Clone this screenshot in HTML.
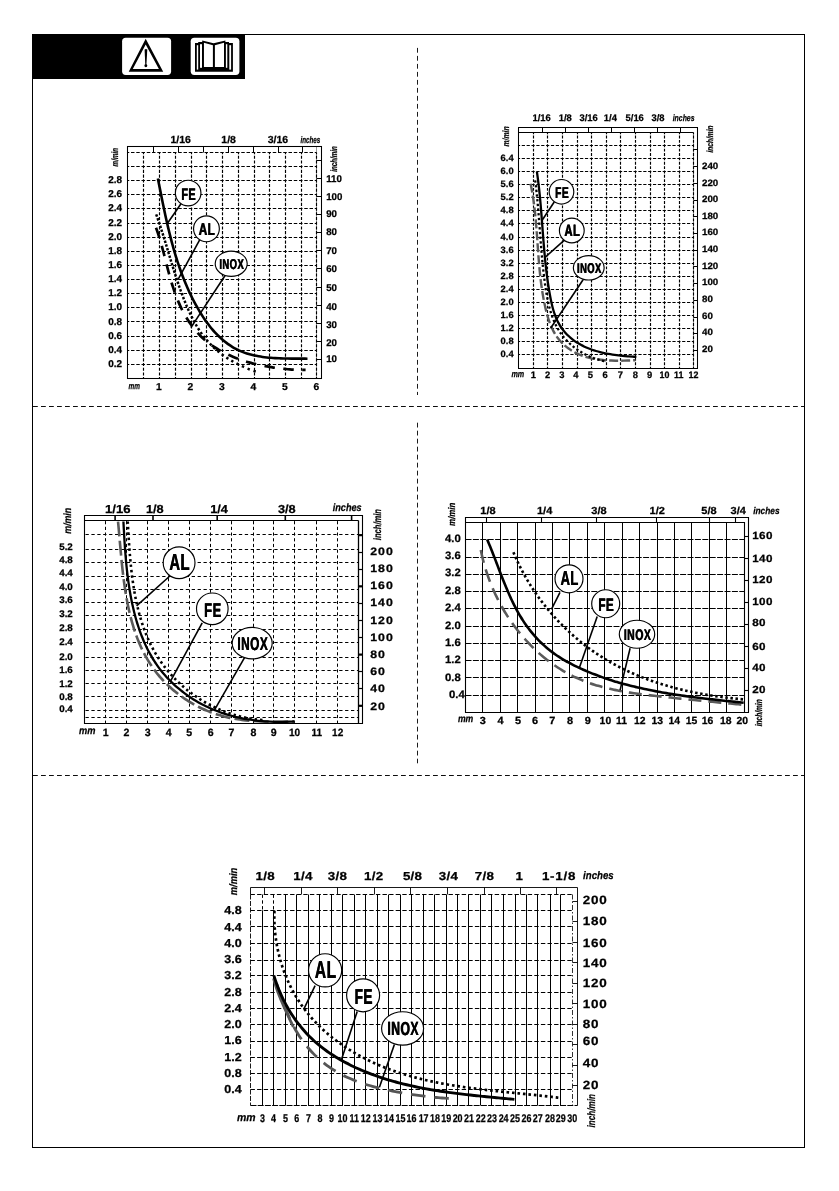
<!DOCTYPE html>
<html><head><meta charset="utf-8"><title>Charts</title>
<style>
html,body{margin:0;padding:0;background:#fff;}
body{width:839px;height:1191px;overflow:hidden;}
svg{display:block;text-rendering:geometricPrecision;font-family:"Liberation Sans",sans-serif;}
</style></head><body>
<svg width="839" height="1191" viewBox="0 0 839 1191">
<rect x="0" y="0" width="839" height="1191" fill="#fff"/>
<rect x="32.5" y="34.5" width="772" height="1113" fill="none" stroke="#000" stroke-width="1"/>
<rect x="32" y="34" width="213" height="45" fill="#000"/>
<line x1="33" y1="406.5" x2="804.5" y2="406.5" stroke="#000" stroke-width="0.95" stroke-dasharray="4.8 3.2"/>
<line x1="33" y1="775.5" x2="804.5" y2="775.5" stroke="#000" stroke-width="0.95" stroke-dasharray="4.8 3.2"/>
<line x1="417.5" y1="47.9" x2="417.5" y2="395" stroke="#000" stroke-width="0.9" stroke-dasharray="4.8 3.2"/>
<line x1="417.5" y1="422.7" x2="417.5" y2="763.3" stroke="#000" stroke-width="0.9" stroke-dasharray="4.8 3.2"/>
<rect x="122.1" y="37.7" width="49" height="37.2" rx="3.6" fill="#fff"/>
<path d="M145.7 38.8 L163.2 71.7 L128.7 71.7 Z M145.7 44.5 L132.8 69.05 L158.9 69.05 Z" fill="#000" fill-rule="evenodd"/>
<path d="M144.6 49.4 Q145.9 48.6 147.3 49.4 L146.4 64.9 L145.3 64.9 Z" fill="#000"/>
<circle cx="145.85" cy="65.7" r="1.45" fill="#000"/>
<rect x="190.7" y="37.7" width="48.7" height="37.2" rx="3.6" fill="#fff"/>
<path d="M195 43.1 H198.2 V42 H202.2 V40.6 L213.6 43.3 L225.4 40.4 V42 H229 V43.1 H232.9 V71.7 H195 Z" fill="#000"/>
<rect x="196.8" y="45.2" width="1.4" height="24.4" fill="#fff"/>
<rect x="200" y="44.2" width="2" height="23.6" fill="#fff"/>
<path d="M203.95 42.7 L212.9 45.2 V67 H203.95 Z" fill="#fff"/>
<path d="M214.9 45.2 L224 42.7 V67 H214.9 Z" fill="#fff"/>
<rect x="225.9" y="44.2" width="1.4" height="23.6" fill="#fff"/>
<rect x="229.3" y="45.2" width="1.8" height="24.4" fill="#fff"/>
<line x1="143.5" y1="152.5" x2="143.5" y2="378.5" stroke="#000" stroke-width="1.15" stroke-dasharray="3.11 1.6" stroke-dashoffset="1.47"/>
<line x1="159.5" y1="152.5" x2="159.5" y2="378.5" stroke="#000" stroke-width="1.15" stroke-dasharray="3.11 1.6" stroke-dashoffset="1.47"/>
<line x1="175.5" y1="152.5" x2="175.5" y2="378.5" stroke="#000" stroke-width="1.15" stroke-dasharray="3.11 1.6" stroke-dashoffset="1.47"/>
<line x1="191.5" y1="152.5" x2="191.5" y2="378.5" stroke="#000" stroke-width="1.15" stroke-dasharray="3.11 1.6" stroke-dashoffset="1.47"/>
<line x1="206.5" y1="152.5" x2="206.5" y2="378.5" stroke="#000" stroke-width="1.15" stroke-dasharray="3.11 1.6" stroke-dashoffset="1.47"/>
<line x1="222.5" y1="152.5" x2="222.5" y2="378.5" stroke="#000" stroke-width="1.15" stroke-dasharray="3.11 1.6" stroke-dashoffset="1.47"/>
<line x1="238.5" y1="152.5" x2="238.5" y2="378.5" stroke="#000" stroke-width="1.15" stroke-dasharray="3.11 1.6" stroke-dashoffset="1.47"/>
<line x1="254.5" y1="152.5" x2="254.5" y2="378.5" stroke="#000" stroke-width="1.15" stroke-dasharray="3.11 1.6" stroke-dashoffset="1.47"/>
<line x1="269.5" y1="152.5" x2="269.5" y2="378.5" stroke="#000" stroke-width="1.15" stroke-dasharray="3.11 1.6" stroke-dashoffset="1.47"/>
<line x1="285.5" y1="152.5" x2="285.5" y2="378.5" stroke="#000" stroke-width="1.15" stroke-dasharray="3.11 1.6" stroke-dashoffset="1.47"/>
<line x1="301.5" y1="152.5" x2="301.5" y2="378.5" stroke="#000" stroke-width="1.15" stroke-dasharray="3.11 1.6" stroke-dashoffset="1.47"/>
<line x1="316.5" y1="146.5" x2="316.5" y2="378.5" stroke="#999" stroke-width="1"/>
<line x1="316.5" y1="152.5" x2="316.5" y2="378.5" stroke="#000" stroke-width="1.15" stroke-dasharray="3.11 1.6" stroke-dashoffset="1.47"/>
<line x1="127.5" y1="152.5" x2="316.5" y2="152.5" stroke="#000" stroke-width="1.15" stroke-dasharray="3.47 1.78" stroke-dashoffset="1.73"/>
<line x1="127.5" y1="166.5" x2="316.5" y2="166.5" stroke="#000" stroke-width="1.15" stroke-dasharray="3.47 1.78" stroke-dashoffset="1.73"/>
<line x1="127.5" y1="180.5" x2="316.5" y2="180.5" stroke="#000" stroke-width="1.15" stroke-dasharray="3.47 1.78" stroke-dashoffset="1.73"/>
<line x1="127.5" y1="194.5" x2="316.5" y2="194.5" stroke="#000" stroke-width="1.15" stroke-dasharray="3.47 1.78" stroke-dashoffset="1.73"/>
<line x1="127.5" y1="208.5" x2="316.5" y2="208.5" stroke="#000" stroke-width="1.15" stroke-dasharray="3.47 1.78" stroke-dashoffset="1.73"/>
<line x1="127.5" y1="223.5" x2="316.5" y2="223.5" stroke="#000" stroke-width="1.15" stroke-dasharray="3.47 1.78" stroke-dashoffset="1.73"/>
<line x1="127.5" y1="237.5" x2="316.5" y2="237.5" stroke="#000" stroke-width="1.15" stroke-dasharray="3.47 1.78" stroke-dashoffset="1.73"/>
<line x1="127.5" y1="251.5" x2="316.5" y2="251.5" stroke="#000" stroke-width="1.15" stroke-dasharray="3.47 1.78" stroke-dashoffset="1.73"/>
<line x1="127.5" y1="265.5" x2="316.5" y2="265.5" stroke="#000" stroke-width="1.15" stroke-dasharray="3.47 1.78" stroke-dashoffset="1.73"/>
<line x1="127.5" y1="279.5" x2="316.5" y2="279.5" stroke="#000" stroke-width="1.15" stroke-dasharray="3.47 1.78" stroke-dashoffset="1.73"/>
<line x1="127.5" y1="293.5" x2="316.5" y2="293.5" stroke="#000" stroke-width="1.15" stroke-dasharray="3.47 1.78" stroke-dashoffset="1.73"/>
<line x1="127.5" y1="307.5" x2="316.5" y2="307.5" stroke="#000" stroke-width="1.15" stroke-dasharray="3.47 1.78" stroke-dashoffset="1.73"/>
<line x1="127.5" y1="321.5" x2="316.5" y2="321.5" stroke="#000" stroke-width="1.15" stroke-dasharray="3.47 1.78" stroke-dashoffset="1.73"/>
<line x1="127.5" y1="336.5" x2="316.5" y2="336.5" stroke="#000" stroke-width="1.15" stroke-dasharray="3.47 1.78" stroke-dashoffset="1.73"/>
<line x1="127.5" y1="350.5" x2="316.5" y2="350.5" stroke="#000" stroke-width="1.15" stroke-dasharray="3.47 1.78" stroke-dashoffset="1.73"/>
<line x1="127.5" y1="364.5" x2="316.5" y2="364.5" stroke="#000" stroke-width="1.15" stroke-dasharray="3.47 1.78" stroke-dashoffset="1.73"/>
<rect x="127.5" y="146.5" width="194.0" height="232" fill="none" stroke="#000" stroke-width="1.05"/>
<line x1="153.5" y1="146.5" x2="153.5" y2="152.5" stroke="#000" stroke-width="1"/>
<line x1="178.5" y1="146.5" x2="178.5" y2="152.5" stroke="#000" stroke-width="1"/>
<line x1="203.5" y1="146.5" x2="203.5" y2="152.5" stroke="#000" stroke-width="1"/>
<line x1="228.5" y1="146.5" x2="228.5" y2="152.5" stroke="#000" stroke-width="1"/>
<line x1="253.5" y1="146.5" x2="253.5" y2="152.5" stroke="#000" stroke-width="1"/>
<line x1="278.5" y1="146.5" x2="278.5" y2="152.5" stroke="#000" stroke-width="1"/>
<line x1="302.5" y1="146.5" x2="302.5" y2="152.5" stroke="#000" stroke-width="1"/>
<line x1="316.5" y1="359.5" x2="321.5" y2="359.5" stroke="#000" stroke-width="1"/>
<line x1="316.5" y1="341.5" x2="321.5" y2="341.5" stroke="#000" stroke-width="1"/>
<line x1="316.5" y1="323.5" x2="321.5" y2="323.5" stroke="#000" stroke-width="1"/>
<line x1="316.5" y1="305.5" x2="321.5" y2="305.5" stroke="#000" stroke-width="1"/>
<line x1="316.5" y1="287.5" x2="321.5" y2="287.5" stroke="#000" stroke-width="1"/>
<line x1="316.5" y1="268.5" x2="321.5" y2="268.5" stroke="#000" stroke-width="1"/>
<line x1="316.5" y1="250.5" x2="321.5" y2="250.5" stroke="#000" stroke-width="1"/>
<line x1="316.5" y1="232.5" x2="321.5" y2="232.5" stroke="#000" stroke-width="1"/>
<line x1="316.5" y1="214.5" x2="321.5" y2="214.5" stroke="#000" stroke-width="1"/>
<line x1="316.5" y1="196.5" x2="321.5" y2="196.5" stroke="#000" stroke-width="1"/>
<line x1="316.5" y1="178.5" x2="321.5" y2="178.5" stroke="#000" stroke-width="1"/>
<line x1="316.5" y1="160.5" x2="321.5" y2="160.5" stroke="#000" stroke-width="1"/>
<text transform="translate(108.2 367.1) scale(1.01 1)" font-size="9.9" font-weight="bold" font-style="normal" text-anchor="start" fill="#000" stroke="#000" stroke-width="0.25">0.2</text>
<text transform="translate(108.2 352.95) scale(1.01 1)" font-size="9.9" font-weight="bold" font-style="normal" text-anchor="start" fill="#000" stroke="#000" stroke-width="0.25">0.4</text>
<text transform="translate(108.2 338.79) scale(1.01 1)" font-size="9.9" font-weight="bold" font-style="normal" text-anchor="start" fill="#000" stroke="#000" stroke-width="0.25">0.6</text>
<text transform="translate(108.2 324.64) scale(1.01 1)" font-size="9.9" font-weight="bold" font-style="normal" text-anchor="start" fill="#000" stroke="#000" stroke-width="0.25">0.8</text>
<text transform="translate(108.2 310.48) scale(1.01 1)" font-size="9.9" font-weight="bold" font-style="normal" text-anchor="start" fill="#000" stroke="#000" stroke-width="0.25">1.0</text>
<text transform="translate(108.2 296.33) scale(1.01 1)" font-size="9.9" font-weight="bold" font-style="normal" text-anchor="start" fill="#000" stroke="#000" stroke-width="0.25">1.2</text>
<text transform="translate(108.2 282.18) scale(1.01 1)" font-size="9.9" font-weight="bold" font-style="normal" text-anchor="start" fill="#000" stroke="#000" stroke-width="0.25">1.4</text>
<text transform="translate(108.2 268.02) scale(1.01 1)" font-size="9.9" font-weight="bold" font-style="normal" text-anchor="start" fill="#000" stroke="#000" stroke-width="0.25">1.6</text>
<text transform="translate(108.2 253.87) scale(1.01 1)" font-size="9.9" font-weight="bold" font-style="normal" text-anchor="start" fill="#000" stroke="#000" stroke-width="0.25">1.8</text>
<text transform="translate(108.2 239.71) scale(1.01 1)" font-size="9.9" font-weight="bold" font-style="normal" text-anchor="start" fill="#000" stroke="#000" stroke-width="0.25">2.0</text>
<text transform="translate(108.2 225.56) scale(1.01 1)" font-size="9.9" font-weight="bold" font-style="normal" text-anchor="start" fill="#000" stroke="#000" stroke-width="0.25">2.2</text>
<text transform="translate(108.2 211.41) scale(1.01 1)" font-size="9.9" font-weight="bold" font-style="normal" text-anchor="start" fill="#000" stroke="#000" stroke-width="0.25">2.4</text>
<text transform="translate(108.2 197.25) scale(1.01 1)" font-size="9.9" font-weight="bold" font-style="normal" text-anchor="start" fill="#000" stroke="#000" stroke-width="0.25">2.6</text>
<text transform="translate(108.2 183.1) scale(1.01 1)" font-size="9.9" font-weight="bold" font-style="normal" text-anchor="start" fill="#000" stroke="#000" stroke-width="0.25">2.8</text>
<text transform="translate(326.2 181.95)" font-size="9.7" font-weight="bold" font-style="normal" text-anchor="start" fill="#000" stroke="#000" stroke-width="0.25">110</text>
<text transform="translate(326.2 200.15)" font-size="9.7" font-weight="bold" font-style="normal" text-anchor="start" fill="#000" stroke="#000" stroke-width="0.25">100</text>
<text transform="translate(326.2 217.35)" font-size="9.7" font-weight="bold" font-style="normal" text-anchor="start" fill="#000" stroke="#000" stroke-width="0.25">90</text>
<text transform="translate(326.2 235.35)" font-size="9.7" font-weight="bold" font-style="normal" text-anchor="start" fill="#000" stroke="#000" stroke-width="0.25">80</text>
<text transform="translate(326.2 254.05)" font-size="9.7" font-weight="bold" font-style="normal" text-anchor="start" fill="#000" stroke="#000" stroke-width="0.25">70</text>
<text transform="translate(326.2 272.15)" font-size="9.7" font-weight="bold" font-style="normal" text-anchor="start" fill="#000" stroke="#000" stroke-width="0.25">60</text>
<text transform="translate(326.2 291.35)" font-size="9.7" font-weight="bold" font-style="normal" text-anchor="start" fill="#000" stroke="#000" stroke-width="0.25">50</text>
<text transform="translate(326.2 309.85)" font-size="9.7" font-weight="bold" font-style="normal" text-anchor="start" fill="#000" stroke="#000" stroke-width="0.25">40</text>
<text transform="translate(326.2 328.05)" font-size="9.7" font-weight="bold" font-style="normal" text-anchor="start" fill="#000" stroke="#000" stroke-width="0.25">30</text>
<text transform="translate(326.2 346.05)" font-size="9.7" font-weight="bold" font-style="normal" text-anchor="start" fill="#000" stroke="#000" stroke-width="0.25">20</text>
<text transform="translate(326.2 361.55)" font-size="9.7" font-weight="bold" font-style="normal" text-anchor="start" fill="#000" stroke="#000" stroke-width="0.25">10</text>
<text transform="translate(158.8 390.1) scale(1.03 1)" font-size="10" font-weight="bold" font-style="normal" text-anchor="middle" fill="#000" stroke="#000" stroke-width="0.25">1</text>
<text transform="translate(190.3 390.1) scale(1.03 1)" font-size="10" font-weight="bold" font-style="normal" text-anchor="middle" fill="#000" stroke="#000" stroke-width="0.25">2</text>
<text transform="translate(221.8 390.1) scale(1.03 1)" font-size="10" font-weight="bold" font-style="normal" text-anchor="middle" fill="#000" stroke="#000" stroke-width="0.25">3</text>
<text transform="translate(253.3 390.1) scale(1.03 1)" font-size="10" font-weight="bold" font-style="normal" text-anchor="middle" fill="#000" stroke="#000" stroke-width="0.25">4</text>
<text transform="translate(284.8 390.1) scale(1.03 1)" font-size="10" font-weight="bold" font-style="normal" text-anchor="middle" fill="#000" stroke="#000" stroke-width="0.25">5</text>
<text transform="translate(316.3 390.1) scale(1.03 1)" font-size="10" font-weight="bold" font-style="normal" text-anchor="middle" fill="#000" stroke="#000" stroke-width="0.25">6</text>
<text transform="translate(134.2 388.8) scale(0.7 1)" font-size="9.2" font-weight="bold" font-style="italic" text-anchor="middle" fill="#000" stroke="#000" stroke-width="0.25">mm</text>
<text transform="translate(180.6 143.3) scale(1.03 1)" font-size="10.2" font-weight="bold" font-style="normal" text-anchor="middle" fill="#000" stroke="#000" stroke-width="0.25">1/16</text>
<text transform="translate(228.6 143.3) scale(1.03 1)" font-size="10.2" font-weight="bold" font-style="normal" text-anchor="middle" fill="#000" stroke="#000" stroke-width="0.25">1/8</text>
<text transform="translate(277.9 143.3) scale(1.03 1)" font-size="10.2" font-weight="bold" font-style="normal" text-anchor="middle" fill="#000" stroke="#000" stroke-width="0.25">3/16</text>
<text transform="translate(310.4 143.1) scale(0.67 1)" font-size="9.4" font-weight="bold" font-style="italic" text-anchor="middle" fill="#000" stroke="#000" stroke-width="0.25">inches</text>
<text transform="translate(118 157.2) rotate(-90) scale(0.68 1)" font-size="9.2" font-weight="bold" font-style="italic" text-anchor="middle" fill="#000" stroke="#000" stroke-width="0.25">m/min</text>
<text transform="translate(337 159) rotate(-90) scale(0.68 1)" font-size="9.2" font-weight="bold" font-style="italic" text-anchor="middle" fill="#000" stroke="#000" stroke-width="0.25">inch/min</text>
<path d="M157.89 178.61 C158.01 179.26 158.4 181.21 158.66 182.51 C158.92 183.81 159.18 185.11 159.44 186.41 C159.7 187.72 159.96 189.03 160.22 190.33 C160.48 191.64 160.74 192.95 161 194.26 C161.27 195.57 161.53 196.88 161.8 198.2 C162.06 199.51 162.33 200.82 162.6 202.14 C162.87 203.45 163.14 204.77 163.41 206.09 C163.68 207.4 163.96 208.72 164.24 210.04 C164.51 211.35 164.8 212.67 165.08 213.99 C165.36 215.31 165.65 216.63 165.94 217.94 C166.23 219.26 166.53 220.58 166.83 221.9 C167.12 223.21 167.43 224.53 167.73 225.85 C168.04 227.16 168.35 228.48 168.67 229.79 C168.98 231.11 169.3 232.42 169.63 233.73 C169.95 235.05 170.28 236.36 170.62 237.67 C170.95 238.98 171.29 240.29 171.64 241.6 C171.99 242.9 172.34 244.21 172.7 245.51 C173.06 246.82 173.42 248.12 173.79 249.42 C174.17 250.72 174.54 252.02 174.93 253.31 C175.32 254.61 175.71 255.9 176.11 257.19 C176.51 258.48 176.91 259.77 177.33 261.06 C177.74 262.34 178.17 263.62 178.6 264.9 C179.03 266.18 179.47 267.46 179.91 268.73 C180.36 270 180.82 271.27 181.28 272.54 C181.75 273.81 182.22 275.07 182.7 276.33 C183.19 277.59 183.68 278.84 184.18 280.09 C184.69 281.34 185.2 282.59 185.72 283.83 C186.24 285.08 186.77 286.31 187.32 287.55 C187.86 288.78 188.41 290.01 188.97 291.24 C189.54 292.46 190.11 293.68 190.7 294.89 C191.29 296.11 191.88 297.32 192.49 298.52 C193.1 299.73 193.72 300.93 194.35 302.12 C194.99 303.31 195.63 304.5 196.29 305.69 C196.94 306.87 197.61 308.05 198.3 309.21 C198.98 310.38 199.67 311.55 200.38 312.7 C201.09 313.85 201.81 314.99 202.55 316.13 C203.28 317.26 204.03 318.38 204.8 319.49 C205.56 320.59 206.34 321.69 207.13 322.77 C207.93 323.85 208.74 324.91 209.56 325.96 C210.39 327.01 211.22 328.04 212.08 329.06 C212.94 330.07 213.81 331.07 214.7 332.04 C215.58 333.02 216.49 333.97 217.41 334.91 C218.33 335.84 219.27 336.75 220.23 337.64 C221.18 338.52 222.15 339.39 223.15 340.23 C224.14 341.06 225.15 341.88 226.18 342.66 C227.2 343.45 228.25 344.21 229.32 344.93 C230.38 345.66 231.47 346.36 232.57 347.03 C233.68 347.7 234.8 348.34 235.94 348.94 C237.09 349.54 238.25 350.12 239.44 350.65 C240.62 351.19 241.83 351.69 243.05 352.16 C244.28 352.63 245.52 353.06 246.78 353.46 C248.05 353.86 249.33 354.23 250.62 354.57 C251.92 354.91 253.23 355.22 254.55 355.51 C255.87 355.8 257.21 356.05 258.55 356.29 C259.9 356.52 261.26 356.73 262.62 356.92 C263.98 357.11 265.36 357.27 266.73 357.42 C268.11 357.57 269.5 357.7 270.88 357.81 C272.27 357.92 273.66 358.02 275.05 358.1 C276.45 358.18 277.84 358.25 279.23 358.31 C280.62 358.36 282.02 358.41 283.4 358.44 C284.79 358.48 286.17 358.51 287.55 358.53 C288.93 358.55 290.3 358.56 291.67 358.58 C293.03 358.59 294.39 358.59 295.73 358.6 C297.08 358.61 298.41 358.61 299.74 358.62 C301.06 358.62 302.37 358.63 303.66 358.64 C304.96 358.65 306.86 358.68 307.5 358.69" fill="none" stroke="#000" stroke-width="2.6" stroke-linecap="butt"/>
<path d="M156.01 227.81 C156.23 228.42 156.91 230.25 157.35 231.49 C157.78 232.73 158.2 233.98 158.61 235.24 C159.02 236.5 159.41 237.77 159.8 239.04 C160.19 240.32 160.57 241.61 160.94 242.9 C161.31 244.19 161.67 245.49 162.03 246.8 C162.38 248.1 162.73 249.42 163.08 250.74 C163.43 252.05 163.77 253.38 164.12 254.7 C164.46 256.03 164.8 257.36 165.13 258.69 C165.47 260.03 165.81 261.36 166.15 262.7 C166.49 264.04 166.83 265.38 167.18 266.72 C167.52 268.06 167.87 269.4 168.22 270.74 C168.58 272.08 168.94 273.42 169.3 274.75 C169.67 276.09 170.04 277.42 170.42 278.76 C170.8 280.09 171.19 281.42 171.59 282.74 C171.99 284.06 172.4 285.39 172.83 286.7 C173.25 288.01 173.69 289.32 174.14 290.63 C174.59 291.93 175.05 293.23 175.53 294.51 C176.01 295.8 176.5 297.08 177 298.36 C177.51 299.63 178.03 300.89 178.57 302.14 C179.1 303.4 179.66 304.64 180.22 305.87 C180.79 307.1 181.38 308.32 181.98 309.53 C182.58 310.73 183.2 311.93 183.84 313.11 C184.47 314.29 185.13 315.46 185.8 316.61 C186.47 317.76 187.16 318.9 187.87 320.02 C188.58 321.14 189.31 322.24 190.06 323.33 C190.81 324.41 191.58 325.48 192.37 326.53 C193.16 327.58 193.97 328.62 194.8 329.63 C195.64 330.64 196.49 331.63 197.36 332.6 C198.24 333.57 199.14 334.52 200.06 335.45 C200.98 336.38 201.92 337.29 202.89 338.17 C203.85 339.05 204.84 339.91 205.85 340.75 C206.85 341.59 207.88 342.41 208.93 343.21 C209.98 344 211.05 344.78 212.13 345.53 C213.22 346.29 214.32 347.02 215.44 347.74 C216.56 348.45 217.7 349.14 218.86 349.81 C220.01 350.49 221.18 351.14 222.37 351.78 C223.55 352.41 224.75 353.02 225.97 353.62 C227.18 354.21 228.41 354.79 229.64 355.35 C230.88 355.91 232.14 356.44 233.4 356.96 C234.66 357.49 235.94 357.99 237.22 358.47 C238.5 358.96 239.8 359.42 241.1 359.87 C242.4 360.32 243.72 360.76 245.04 361.17 C246.36 361.59 247.68 361.98 249.02 362.37 C250.35 362.75 251.69 363.11 253.04 363.46 C254.38 363.81 255.73 364.15 257.09 364.46 C258.44 364.78 259.8 365.08 261.16 365.37 C262.53 365.66 263.89 365.93 265.26 366.18 C266.62 366.44 267.99 366.68 269.36 366.91 C270.73 367.14 272.1 367.35 273.47 367.55 C274.84 367.75 276.21 367.94 277.57 368.11 C278.94 368.28 280.3 368.44 281.66 368.58 C283.03 368.73 284.38 368.86 285.74 368.98 C287.09 369.1 288.44 369.21 289.79 369.3 C291.13 369.4 292.47 369.48 293.81 369.55 C295.14 369.62 296.46 369.68 297.78 369.73 C299.1 369.78 300.41 369.81 301.71 369.84 C303.02 369.87 304.95 369.88 305.59 369.89" fill="none" stroke="#000" stroke-width="2.7" stroke-dasharray="10.5 8.5" stroke-linecap="butt"/>
<path d="M156.19 214.41 C156.42 215.03 157.1 216.9 157.54 218.16 C157.98 219.41 158.42 220.67 158.85 221.93 C159.28 223.2 159.7 224.46 160.12 225.73 C160.55 227 160.96 228.27 161.37 229.55 C161.79 230.83 162.19 232.1 162.6 233.39 C163 234.67 163.41 235.95 163.81 237.24 C164.21 238.52 164.6 239.81 165 241.1 C165.39 242.39 165.78 243.68 166.18 244.97 C166.57 246.26 166.96 247.56 167.35 248.85 C167.74 250.15 168.13 251.44 168.52 252.74 C168.91 254.04 169.3 255.33 169.69 256.63 C170.08 257.93 170.47 259.23 170.87 260.52 C171.26 261.82 171.66 263.12 172.05 264.41 C172.45 265.71 172.85 267.01 173.25 268.3 C173.66 269.6 174.06 270.89 174.47 272.18 C174.88 273.47 175.29 274.77 175.71 276.05 C176.13 277.34 176.55 278.63 176.98 279.92 C177.4 281.2 177.83 282.49 178.27 283.77 C178.71 285.05 179.15 286.32 179.6 287.6 C180.05 288.87 180.51 290.15 180.97 291.42 C181.43 292.68 181.9 293.95 182.38 295.21 C182.86 296.47 183.34 297.73 183.83 298.99 C184.33 300.24 184.83 301.49 185.34 302.74 C185.85 303.98 186.37 305.22 186.9 306.46 C187.44 307.69 187.97 308.93 188.53 310.15 C189.08 311.38 189.64 312.6 190.21 313.81 C190.79 315.02 191.37 316.23 191.98 317.42 C192.58 318.62 193.19 319.81 193.82 320.98 C194.45 322.16 195.1 323.32 195.76 324.48 C196.43 325.63 197.11 326.77 197.81 327.9 C198.51 329.03 199.23 330.14 199.97 331.24 C200.71 332.34 201.47 333.42 202.25 334.49 C203.03 335.55 203.83 336.6 204.65 337.64 C205.47 338.67 206.32 339.69 207.18 340.68 C208.04 341.68 208.93 342.66 209.83 343.62 C210.73 344.59 211.66 345.53 212.6 346.45 C213.55 347.38 214.52 348.28 215.5 349.16 C216.49 350.05 217.5 350.91 218.53 351.75 C219.55 352.59 220.6 353.42 221.67 354.22 C222.74 355.02 223.82 355.8 224.93 356.56 C226.03 357.32 227.15 358.06 228.28 358.78 C229.42 359.5 230.57 360.2 231.74 360.88 C232.91 361.56 234.09 362.22 235.28 362.86 C236.48 363.5 237.68 364.12 238.9 364.72 C240.12 365.32 241.35 365.9 242.6 366.46 C243.84 367.03 245.09 367.57 246.35 368.09 C247.61 368.62 248.88 369.12 250.16 369.6 C251.44 370.09 252.73 370.56 254.02 371 C255.31 371.45 257.26 372.07 257.91 372.29" fill="none" stroke="#000" stroke-width="2.5" stroke-dasharray="2.4 1.64 2.4 1.6 2.4 1.57 2.4 1.55 2.4 1.53 2.4 1.51 2.4 1.5 2.4 1.49 2.4 1.48 2.4 1.48 2.4 1.48 2.4 1.48 2.4 1.49 2.4 1.5 2.4 1.51 2.4 1.52 2.4 1.54 2.4 1.57 2.4 1.59 2.4 1.62 2.4 1.66 2.4 1.69 2.4 1.74 2.4 1.78 2.4 1.84 2.4 1.89 2.4 1.95 2.4 2.04 2.4 2.11 2.4 2.21 2.4 2.29 2.4 2.4 2.4 2.52 2.4 2.64 2.4 2.77 2.4 2.93 2.4 3.06 2.4 3.23 2.4 3.39 2.4 3.52 2.4 3.67 2.4 3.8 2.4 3.92 2.4 4.01" stroke-linecap="butt"/>
<line x1="181.5" y1="203" x2="167.2" y2="223.7" stroke="#000" stroke-width="1.6"/>
<ellipse cx="188.15" cy="193" rx="12.8" ry="12.8" fill="#fff" stroke="#000" stroke-width="1.15"/>
<text transform="translate(188.6 199.7) scale(0.65 1)" font-size="16.8" font-weight="bold" font-style="normal" text-anchor="middle" fill="#000" letter-spacing="0.7" stroke="#000" stroke-width="0.2">FE</text>
<text transform="translate(188.9 199.7) scale(0.65 1)" font-size="16.8" font-weight="bold" font-style="normal" text-anchor="middle" fill="#000" letter-spacing="0.7" stroke="#000" stroke-width="0.2">FE</text>
<line x1="199.8" y1="239.7" x2="178.1" y2="279.4" stroke="#000" stroke-width="1.6"/>
<ellipse cx="206.45" cy="228.8" rx="12.9" ry="12.9" fill="#fff" stroke="#000" stroke-width="1.15"/>
<text transform="translate(206.9 234.5) scale(0.69 1)" font-size="17" font-weight="bold" font-style="normal" text-anchor="middle" fill="#000" letter-spacing="0.7" stroke="#000" stroke-width="0.2">AL</text>
<text transform="translate(207.2 234.5) scale(0.69 1)" font-size="17" font-weight="bold" font-style="normal" text-anchor="middle" fill="#000" letter-spacing="0.7" stroke="#000" stroke-width="0.2">AL</text>
<line x1="225.1" y1="275.5" x2="190.9" y2="327.6" stroke="#000" stroke-width="1.6"/>
<ellipse cx="231.2" cy="263.8" rx="16" ry="12.6" fill="#fff" stroke="#000" stroke-width="1.15"/>
<text transform="translate(231.65 269.2) scale(0.66 1)" font-size="14.3" font-weight="bold" font-style="normal" text-anchor="middle" fill="#000" letter-spacing="0.7" stroke="#000" stroke-width="0.2">INOX</text>
<text transform="translate(231.95 269.2) scale(0.66 1)" font-size="14.3" font-weight="bold" font-style="normal" text-anchor="middle" fill="#000" letter-spacing="0.7" stroke="#000" stroke-width="0.2">INOX</text>
<line x1="533.5" y1="132.5" x2="533.5" y2="368.5" stroke="#000" stroke-width="1.15" stroke-dasharray="2.88 1.48" stroke-dashoffset="1.24"/>
<line x1="547.5" y1="132.5" x2="547.5" y2="368.5" stroke="#000" stroke-width="1.15" stroke-dasharray="2.88 1.48" stroke-dashoffset="1.24"/>
<line x1="562.5" y1="132.5" x2="562.5" y2="368.5" stroke="#000" stroke-width="1.15" stroke-dasharray="2.88 1.48" stroke-dashoffset="1.24"/>
<line x1="577.5" y1="132.5" x2="577.5" y2="368.5" stroke="#000" stroke-width="1.15" stroke-dasharray="2.88 1.48" stroke-dashoffset="1.24"/>
<line x1="591.5" y1="132.5" x2="591.5" y2="368.5" stroke="#000" stroke-width="1.15" stroke-dasharray="2.88 1.48" stroke-dashoffset="1.24"/>
<line x1="606.5" y1="132.5" x2="606.5" y2="368.5" stroke="#000" stroke-width="1.15" stroke-dasharray="2.88 1.48" stroke-dashoffset="1.24"/>
<line x1="620.5" y1="132.5" x2="620.5" y2="368.5" stroke="#000" stroke-width="1.15" stroke-dasharray="2.88 1.48" stroke-dashoffset="1.24"/>
<line x1="635.5" y1="132.5" x2="635.5" y2="368.5" stroke="#000" stroke-width="1.15" stroke-dasharray="2.88 1.48" stroke-dashoffset="1.24"/>
<line x1="650.5" y1="132.5" x2="650.5" y2="368.5" stroke="#000" stroke-width="1.15" stroke-dasharray="2.88 1.48" stroke-dashoffset="1.24"/>
<line x1="664.5" y1="132.5" x2="664.5" y2="368.5" stroke="#000" stroke-width="1.15" stroke-dasharray="2.88 1.48" stroke-dashoffset="1.24"/>
<line x1="679.5" y1="132.5" x2="679.5" y2="368.5" stroke="#000" stroke-width="1.15" stroke-dasharray="2.88 1.48" stroke-dashoffset="1.24"/>
<line x1="693.5" y1="132.5" x2="693.5" y2="368.5" stroke="#999" stroke-width="1"/>
<line x1="693.5" y1="132.5" x2="693.5" y2="368.5" stroke="#000" stroke-width="1.15" stroke-dasharray="2.88 1.48" stroke-dashoffset="1.24"/>
<line x1="518.5" y1="145.5" x2="693.5" y2="145.5" stroke="#000" stroke-width="1.15" stroke-dasharray="3.21 1.65" stroke-dashoffset="1.61"/>
<line x1="518.5" y1="158.5" x2="693.5" y2="158.5" stroke="#000" stroke-width="1.15" stroke-dasharray="3.21 1.65" stroke-dashoffset="1.61"/>
<line x1="518.5" y1="171.5" x2="693.5" y2="171.5" stroke="#000" stroke-width="1.15" stroke-dasharray="3.21 1.65" stroke-dashoffset="1.61"/>
<line x1="518.5" y1="184.5" x2="693.5" y2="184.5" stroke="#000" stroke-width="1.15" stroke-dasharray="3.21 1.65" stroke-dashoffset="1.61"/>
<line x1="518.5" y1="197.5" x2="693.5" y2="197.5" stroke="#000" stroke-width="1.15" stroke-dasharray="3.21 1.65" stroke-dashoffset="1.61"/>
<line x1="518.5" y1="210.5" x2="693.5" y2="210.5" stroke="#000" stroke-width="1.15" stroke-dasharray="3.21 1.65" stroke-dashoffset="1.61"/>
<line x1="518.5" y1="223.5" x2="693.5" y2="223.5" stroke="#000" stroke-width="1.15" stroke-dasharray="3.21 1.65" stroke-dashoffset="1.61"/>
<line x1="518.5" y1="237.5" x2="693.5" y2="237.5" stroke="#000" stroke-width="1.15" stroke-dasharray="3.21 1.65" stroke-dashoffset="1.61"/>
<line x1="518.5" y1="250.5" x2="693.5" y2="250.5" stroke="#000" stroke-width="1.15" stroke-dasharray="3.21 1.65" stroke-dashoffset="1.61"/>
<line x1="518.5" y1="263.5" x2="693.5" y2="263.5" stroke="#000" stroke-width="1.15" stroke-dasharray="3.21 1.65" stroke-dashoffset="1.61"/>
<line x1="518.5" y1="276.5" x2="693.5" y2="276.5" stroke="#000" stroke-width="1.15" stroke-dasharray="3.21 1.65" stroke-dashoffset="1.61"/>
<line x1="518.5" y1="289.5" x2="693.5" y2="289.5" stroke="#000" stroke-width="1.15" stroke-dasharray="3.21 1.65" stroke-dashoffset="1.61"/>
<line x1="518.5" y1="302.5" x2="693.5" y2="302.5" stroke="#000" stroke-width="1.15" stroke-dasharray="3.21 1.65" stroke-dashoffset="1.61"/>
<line x1="518.5" y1="315.5" x2="693.5" y2="315.5" stroke="#000" stroke-width="1.15" stroke-dasharray="3.21 1.65" stroke-dashoffset="1.61"/>
<line x1="518.5" y1="328.5" x2="693.5" y2="328.5" stroke="#000" stroke-width="1.15" stroke-dasharray="3.21 1.65" stroke-dashoffset="1.61"/>
<line x1="518.5" y1="341.5" x2="693.5" y2="341.5" stroke="#000" stroke-width="1.15" stroke-dasharray="3.21 1.65" stroke-dashoffset="1.61"/>
<line x1="518.5" y1="354.5" x2="693.5" y2="354.5" stroke="#000" stroke-width="1.15" stroke-dasharray="3.21 1.65" stroke-dashoffset="1.61"/>
<path d="M518.5 127.5 H697.5 V368.5 H518.5 Z M518.5 132.5 H693.5" fill="none" stroke="#000" stroke-width="1.05"/>
<line x1="542.5" y1="127.5" x2="542.5" y2="132.5" stroke="#000" stroke-width="1"/>
<line x1="565.5" y1="127.5" x2="565.5" y2="132.5" stroke="#000" stroke-width="1"/>
<line x1="588.5" y1="127.5" x2="588.5" y2="132.5" stroke="#000" stroke-width="1"/>
<line x1="611.5" y1="127.5" x2="611.5" y2="132.5" stroke="#000" stroke-width="1"/>
<line x1="634.5" y1="127.5" x2="634.5" y2="132.5" stroke="#000" stroke-width="1"/>
<line x1="657.5" y1="127.5" x2="657.5" y2="132.5" stroke="#000" stroke-width="1"/>
<line x1="680.5" y1="127.5" x2="680.5" y2="132.5" stroke="#000" stroke-width="1"/>
<line x1="693.5" y1="350.5" x2="697.5" y2="350.5" stroke="#000" stroke-width="1"/>
<text transform="translate(702 351.8) scale(1.06 1)" font-size="9.2" font-weight="bold" font-style="normal" text-anchor="start" fill="#000" stroke="#000" stroke-width="0.25">20</text>
<line x1="693.5" y1="333.5" x2="697.5" y2="333.5" stroke="#000" stroke-width="1"/>
<text transform="translate(702 335.18) scale(1.06 1)" font-size="9.2" font-weight="bold" font-style="normal" text-anchor="start" fill="#000" stroke="#000" stroke-width="0.25">40</text>
<line x1="693.5" y1="317.5" x2="697.5" y2="317.5" stroke="#000" stroke-width="1"/>
<text transform="translate(702 318.56) scale(1.06 1)" font-size="9.2" font-weight="bold" font-style="normal" text-anchor="start" fill="#000" stroke="#000" stroke-width="0.25">60</text>
<line x1="693.5" y1="300.5" x2="697.5" y2="300.5" stroke="#000" stroke-width="1"/>
<text transform="translate(702 301.95) scale(1.06 1)" font-size="9.2" font-weight="bold" font-style="normal" text-anchor="start" fill="#000" stroke="#000" stroke-width="0.25">80</text>
<line x1="693.5" y1="283.5" x2="697.5" y2="283.5" stroke="#000" stroke-width="1"/>
<text transform="translate(702 285.33) scale(1.06 1)" font-size="9.2" font-weight="bold" font-style="normal" text-anchor="start" fill="#000" stroke="#000" stroke-width="0.25">100</text>
<line x1="693.5" y1="266.5" x2="697.5" y2="266.5" stroke="#000" stroke-width="1"/>
<text transform="translate(702 268.71) scale(1.06 1)" font-size="9.2" font-weight="bold" font-style="normal" text-anchor="start" fill="#000" stroke="#000" stroke-width="0.25">120</text>
<line x1="693.5" y1="250.5" x2="697.5" y2="250.5" stroke="#000" stroke-width="1"/>
<text transform="translate(702 252.09) scale(1.06 1)" font-size="9.2" font-weight="bold" font-style="normal" text-anchor="start" fill="#000" stroke="#000" stroke-width="0.25">140</text>
<line x1="693.5" y1="233.5" x2="697.5" y2="233.5" stroke="#000" stroke-width="1"/>
<text transform="translate(702 235.47) scale(1.06 1)" font-size="9.2" font-weight="bold" font-style="normal" text-anchor="start" fill="#000" stroke="#000" stroke-width="0.25">160</text>
<line x1="693.5" y1="216.5" x2="697.5" y2="216.5" stroke="#000" stroke-width="1"/>
<text transform="translate(702 218.86) scale(1.06 1)" font-size="9.2" font-weight="bold" font-style="normal" text-anchor="start" fill="#000" stroke="#000" stroke-width="0.25">180</text>
<line x1="693.5" y1="200.5" x2="697.5" y2="200.5" stroke="#000" stroke-width="1"/>
<text transform="translate(702 202.24) scale(1.06 1)" font-size="9.2" font-weight="bold" font-style="normal" text-anchor="start" fill="#000" stroke="#000" stroke-width="0.25">200</text>
<line x1="693.5" y1="183.5" x2="697.5" y2="183.5" stroke="#000" stroke-width="1"/>
<text transform="translate(702 185.62) scale(1.06 1)" font-size="9.2" font-weight="bold" font-style="normal" text-anchor="start" fill="#000" stroke="#000" stroke-width="0.25">220</text>
<line x1="693.5" y1="166.5" x2="697.5" y2="166.5" stroke="#000" stroke-width="1"/>
<text transform="translate(702 169) scale(1.06 1)" font-size="9.2" font-weight="bold" font-style="normal" text-anchor="start" fill="#000" stroke="#000" stroke-width="0.25">240</text>
<line x1="693.5" y1="149.5" x2="697.5" y2="149.5" stroke="#000" stroke-width="1"/>
<text transform="translate(500.6 357.1) scale(1.02 1)" font-size="9.2" font-weight="bold" font-style="normal" text-anchor="start" fill="#000" stroke="#000" stroke-width="0.25">0.4</text>
<text transform="translate(500.6 344) scale(1.02 1)" font-size="9.2" font-weight="bold" font-style="normal" text-anchor="start" fill="#000" stroke="#000" stroke-width="0.25">0.8</text>
<text transform="translate(500.6 330.9) scale(1.02 1)" font-size="9.2" font-weight="bold" font-style="normal" text-anchor="start" fill="#000" stroke="#000" stroke-width="0.25">1.2</text>
<text transform="translate(500.6 318) scale(1.02 1)" font-size="9.2" font-weight="bold" font-style="normal" text-anchor="start" fill="#000" stroke="#000" stroke-width="0.25">1.6</text>
<text transform="translate(500.6 304.9) scale(1.02 1)" font-size="9.2" font-weight="bold" font-style="normal" text-anchor="start" fill="#000" stroke="#000" stroke-width="0.25">2.0</text>
<text transform="translate(500.6 292) scale(1.02 1)" font-size="9.2" font-weight="bold" font-style="normal" text-anchor="start" fill="#000" stroke="#000" stroke-width="0.25">2.4</text>
<text transform="translate(500.6 279.1) scale(1.02 1)" font-size="9.2" font-weight="bold" font-style="normal" text-anchor="start" fill="#000" stroke="#000" stroke-width="0.25">2.8</text>
<text transform="translate(500.6 266.2) scale(1.02 1)" font-size="9.2" font-weight="bold" font-style="normal" text-anchor="start" fill="#000" stroke="#000" stroke-width="0.25">3.2</text>
<text transform="translate(500.6 253.1) scale(1.02 1)" font-size="9.2" font-weight="bold" font-style="normal" text-anchor="start" fill="#000" stroke="#000" stroke-width="0.25">3.6</text>
<text transform="translate(500.6 239.7) scale(1.02 1)" font-size="9.2" font-weight="bold" font-style="normal" text-anchor="start" fill="#000" stroke="#000" stroke-width="0.25">4.0</text>
<text transform="translate(500.6 226.2) scale(1.02 1)" font-size="9.2" font-weight="bold" font-style="normal" text-anchor="start" fill="#000" stroke="#000" stroke-width="0.25">4.4</text>
<text transform="translate(500.6 213) scale(1.02 1)" font-size="9.2" font-weight="bold" font-style="normal" text-anchor="start" fill="#000" stroke="#000" stroke-width="0.25">4.8</text>
<text transform="translate(500.6 200.1) scale(1.02 1)" font-size="9.2" font-weight="bold" font-style="normal" text-anchor="start" fill="#000" stroke="#000" stroke-width="0.25">5.2</text>
<text transform="translate(500.6 187) scale(1.02 1)" font-size="9.2" font-weight="bold" font-style="normal" text-anchor="start" fill="#000" stroke="#000" stroke-width="0.25">5.6</text>
<text transform="translate(500.6 174.1) scale(1.02 1)" font-size="9.2" font-weight="bold" font-style="normal" text-anchor="start" fill="#000" stroke="#000" stroke-width="0.25">6.0</text>
<text transform="translate(500.6 161.1) scale(1.02 1)" font-size="9.2" font-weight="bold" font-style="normal" text-anchor="start" fill="#000" stroke="#000" stroke-width="0.25">6.4</text>
<text transform="translate(533.3 378.3)" font-size="9.4" font-weight="bold" font-style="normal" text-anchor="middle" fill="#000" stroke="#000" stroke-width="0.25">1</text>
<text transform="translate(547.7 378.3)" font-size="9.4" font-weight="bold" font-style="normal" text-anchor="middle" fill="#000" stroke="#000" stroke-width="0.25">2</text>
<text transform="translate(561.9 378.3)" font-size="9.4" font-weight="bold" font-style="normal" text-anchor="middle" fill="#000" stroke="#000" stroke-width="0.25">3</text>
<text transform="translate(575.9 378.3)" font-size="9.4" font-weight="bold" font-style="normal" text-anchor="middle" fill="#000" stroke="#000" stroke-width="0.25">4</text>
<text transform="translate(590.3 378.3)" font-size="9.4" font-weight="bold" font-style="normal" text-anchor="middle" fill="#000" stroke="#000" stroke-width="0.25">5</text>
<text transform="translate(605 378.3)" font-size="9.4" font-weight="bold" font-style="normal" text-anchor="middle" fill="#000" stroke="#000" stroke-width="0.25">6</text>
<text transform="translate(620.3 378.3)" font-size="9.4" font-weight="bold" font-style="normal" text-anchor="middle" fill="#000" stroke="#000" stroke-width="0.25">7</text>
<text transform="translate(635.4 378.3)" font-size="9.4" font-weight="bold" font-style="normal" text-anchor="middle" fill="#000" stroke="#000" stroke-width="0.25">8</text>
<text transform="translate(649.6 378.3)" font-size="9.4" font-weight="bold" font-style="normal" text-anchor="middle" fill="#000" stroke="#000" stroke-width="0.25">9</text>
<text transform="translate(664.5 378.3) scale(0.95 1)" font-size="9.4" font-weight="bold" font-style="normal" text-anchor="middle" fill="#000" stroke="#000" stroke-width="0.25">10</text>
<text transform="translate(678.7 378.3) scale(0.95 1)" font-size="9.4" font-weight="bold" font-style="normal" text-anchor="middle" fill="#000" stroke="#000" stroke-width="0.25">11</text>
<text transform="translate(693.4 378.3) scale(0.95 1)" font-size="9.4" font-weight="bold" font-style="normal" text-anchor="middle" fill="#000" stroke="#000" stroke-width="0.25">12</text>
<text transform="translate(517.8 376.8) scale(0.78 1)" font-size="9.2" font-weight="bold" font-style="italic" text-anchor="middle" fill="#000" stroke="#000" stroke-width="0.25">mm</text>
<text transform="translate(541.6 121.4) scale(0.98 1)" font-size="9.6" font-weight="bold" font-style="normal" text-anchor="middle" fill="#000" stroke="#000" stroke-width="0.25">1/16</text>
<text transform="translate(565.3 121.4) scale(0.98 1)" font-size="9.6" font-weight="bold" font-style="normal" text-anchor="middle" fill="#000" stroke="#000" stroke-width="0.25">1/8</text>
<text transform="translate(588.6 121.4) scale(0.98 1)" font-size="9.6" font-weight="bold" font-style="normal" text-anchor="middle" fill="#000" stroke="#000" stroke-width="0.25">3/16</text>
<text transform="translate(610.4 121.4) scale(0.98 1)" font-size="9.6" font-weight="bold" font-style="normal" text-anchor="middle" fill="#000" stroke="#000" stroke-width="0.25">1/4</text>
<text transform="translate(634.7 121.4) scale(0.98 1)" font-size="9.6" font-weight="bold" font-style="normal" text-anchor="middle" fill="#000" stroke="#000" stroke-width="0.25">5/16</text>
<text transform="translate(658 121.4) scale(0.98 1)" font-size="9.6" font-weight="bold" font-style="normal" text-anchor="middle" fill="#000" stroke="#000" stroke-width="0.25">3/8</text>
<text transform="translate(683.6 121.2) scale(0.75 1)" font-size="9.2" font-weight="bold" font-style="italic" text-anchor="middle" fill="#000" stroke="#000" stroke-width="0.25">inches</text>
<text transform="translate(508.6 136.5) rotate(-90) scale(0.76 1)" font-size="9.0" font-weight="bold" font-style="italic" text-anchor="middle" fill="#000" stroke="#000" stroke-width="0.25">m/min</text>
<text transform="translate(712.9 139) rotate(-90) scale(0.73 1)" font-size="9.0" font-weight="bold" font-style="italic" text-anchor="middle" fill="#000" stroke="#000" stroke-width="0.25">inch/min</text>
<path d="M530.57 183.71 C530.71 184.37 531.12 186.35 531.38 187.67 C531.63 188.99 531.88 190.32 532.11 191.65 C532.34 192.97 532.56 194.3 532.78 195.63 C532.99 196.96 533.19 198.29 533.39 199.62 C533.58 200.96 533.76 202.29 533.94 203.62 C534.12 204.96 534.28 206.3 534.44 207.63 C534.61 208.97 534.76 210.31 534.9 211.65 C535.05 212.99 535.19 214.33 535.33 215.67 C535.46 217.01 535.59 218.35 535.71 219.69 C535.84 221.04 535.95 222.38 536.07 223.72 C536.18 225.07 536.29 226.41 536.4 227.76 C536.51 229.1 536.61 230.45 536.71 231.8 C536.81 233.14 536.91 234.49 537.01 235.84 C537.11 237.18 537.2 238.53 537.3 239.88 C537.39 241.23 537.49 242.58 537.58 243.92 C537.67 245.27 537.77 246.62 537.86 247.97 C537.96 249.32 538.05 250.67 538.15 252.02 C538.25 253.36 538.35 254.71 538.45 256.06 C538.55 257.41 538.66 258.76 538.76 260.11 C538.87 261.46 538.98 262.8 539.1 264.15 C539.21 265.5 539.33 266.85 539.46 268.19 C539.58 269.54 539.71 270.89 539.85 272.23 C539.98 273.58 540.12 274.92 540.27 276.27 C540.42 277.61 540.58 278.96 540.74 280.3 C540.9 281.64 541.07 282.99 541.25 284.33 C541.43 285.67 541.61 287.01 541.81 288.35 C542 289.69 542.21 291.03 542.42 292.37 C542.64 293.7 542.86 295.04 543.1 296.38 C543.33 297.71 543.58 299.05 543.84 300.38 C544.1 301.71 544.37 303.04 544.65 304.38 C544.93 305.71 545.23 307.04 545.53 308.36 C545.84 309.69 546.17 311.02 546.51 312.33 C546.85 313.65 547.21 314.96 547.59 316.26 C547.97 317.56 548.37 318.85 548.8 320.13 C549.23 321.4 549.68 322.67 550.16 323.91 C550.64 325.15 551.15 326.38 551.7 327.58 C552.24 328.78 552.82 329.96 553.43 331.12 C554.04 332.27 554.69 333.4 555.38 334.5 C556.07 335.6 556.8 336.67 557.57 337.71 C558.34 338.74 559.15 339.75 559.99 340.72 C560.84 341.69 561.73 342.63 562.65 343.54 C563.57 344.44 564.52 345.31 565.51 346.15 C566.5 346.98 567.53 347.78 568.58 348.54 C569.63 349.3 570.72 350.02 571.84 350.71 C572.95 351.39 574.1 352.04 575.27 352.65 C576.44 353.25 577.64 353.82 578.87 354.35 C580.09 354.87 581.35 355.36 582.62 355.81 C583.89 356.25 585.19 356.66 586.5 357.04 C587.82 357.41 589.15 357.75 590.49 358.05 C591.84 358.36 593.2 358.63 594.57 358.88 C595.94 359.12 597.33 359.33 598.72 359.52 C600.11 359.71 601.51 359.87 602.91 360.01 C604.31 360.15 605.72 360.26 607.12 360.35 C608.52 360.44 609.93 360.51 611.33 360.57 C612.73 360.62 614.13 360.65 615.52 360.68 C616.91 360.7 618.3 360.7 619.67 360.69 C621.04 360.69 622.41 360.66 623.75 360.64 C625.1 360.61 626.43 360.57 627.75 360.52 C629.06 360.48 630.36 360.42 631.64 360.37 C632.91 360.31 634.77 360.22 635.39 360.19" fill="none" stroke="#5a5a5a" stroke-width="2.4" stroke-dasharray="9 3" stroke-linecap="butt"/>
<path d="M535.18 180.4 C535.27 181.07 535.52 183.08 535.69 184.42 C535.85 185.75 536.01 187.09 536.16 188.43 C536.31 189.77 536.45 191.11 536.6 192.45 C536.74 193.78 536.88 195.12 537.01 196.46 C537.14 197.8 537.27 199.14 537.4 200.48 C537.53 201.81 537.65 203.15 537.77 204.49 C537.89 205.83 538 207.17 538.12 208.51 C538.23 209.85 538.34 211.19 538.45 212.53 C538.56 213.86 538.67 215.2 538.78 216.54 C538.88 217.88 538.99 219.22 539.09 220.56 C539.19 221.9 539.29 223.24 539.4 224.58 C539.5 225.92 539.6 227.26 539.7 228.6 C539.8 229.94 539.9 231.28 540 232.62 C540.1 233.96 540.2 235.3 540.3 236.64 C540.4 237.98 540.51 239.32 540.61 240.66 C540.72 242 540.82 243.34 540.93 244.68 C541.03 246.03 541.14 247.37 541.25 248.71 C541.37 250.05 541.48 251.39 541.59 252.73 C541.71 254.07 541.83 255.42 541.95 256.76 C542.07 258.1 542.2 259.44 542.33 260.79 C542.46 262.13 542.59 263.47 542.73 264.81 C542.86 266.16 543 267.5 543.15 268.84 C543.29 270.19 543.44 271.53 543.6 272.87 C543.76 274.22 543.92 275.56 544.08 276.91 C544.25 278.25 544.42 279.59 544.6 280.94 C544.78 282.28 544.96 283.63 545.15 284.97 C545.34 286.32 545.54 287.66 545.74 289.01 C545.95 290.35 546.16 291.69 546.39 293.03 C546.62 294.37 546.85 295.71 547.11 297.04 C547.36 298.37 547.62 299.7 547.9 301.02 C548.19 302.34 548.48 303.65 548.8 304.95 C549.11 306.26 549.44 307.56 549.8 308.84 C550.16 310.13 550.53 311.41 550.93 312.67 C551.33 313.93 551.75 315.19 552.19 316.43 C552.64 317.67 553.11 318.89 553.61 320.1 C554.11 321.31 554.64 322.51 555.2 323.69 C555.76 324.87 556.34 326.03 556.96 327.17 C557.59 328.32 558.24 329.44 558.93 330.55 C559.61 331.65 560.34 332.74 561.1 333.8 C561.86 334.86 562.65 335.9 563.49 336.92 C564.32 337.94 565.19 338.93 566.08 339.9 C566.98 340.87 567.92 341.81 568.88 342.73 C569.84 343.65 570.84 344.54 571.86 345.41 C572.88 346.27 573.93 347.11 575 347.92 C576.08 348.73 577.18 349.51 578.3 350.26 C579.43 351.02 580.58 351.74 581.75 352.43 C582.92 353.12 584.11 353.78 585.32 354.4 C586.53 355.03 587.76 355.62 589 356.18 C590.25 356.74 591.51 357.27 592.79 357.76 C594.07 358.25 595.36 358.71 596.66 359.13 C597.96 359.55 599.28 359.93 600.61 360.28 C601.93 360.63 603.95 361.05 604.61 361.2" fill="none" stroke="#000" stroke-width="2.3" stroke-dasharray="2.3 2.4" stroke-linecap="butt"/>
<path d="M536.88 171.6 C536.97 172.27 537.27 174.27 537.45 175.61 C537.64 176.94 537.81 178.28 537.99 179.62 C538.16 180.95 538.32 182.29 538.48 183.63 C538.65 184.97 538.8 186.31 538.95 187.65 C539.1 188.99 539.25 190.33 539.39 191.67 C539.53 193.01 539.66 194.35 539.8 195.69 C539.93 197.03 540.06 198.38 540.18 199.72 C540.31 201.06 540.43 202.41 540.55 203.75 C540.67 205.09 540.78 206.44 540.9 207.78 C541.01 209.13 541.12 210.47 541.23 211.82 C541.34 213.16 541.44 214.51 541.55 215.85 C541.65 217.2 541.76 218.54 541.86 219.89 C541.96 221.23 542.07 222.58 542.17 223.93 C542.27 225.27 542.37 226.62 542.47 227.97 C542.57 229.31 542.68 230.66 542.78 232.01 C542.88 233.36 542.98 234.7 543.09 236.05 C543.19 237.4 543.29 238.74 543.4 240.09 C543.51 241.44 543.62 242.79 543.73 244.13 C543.84 245.48 543.95 246.83 544.06 248.17 C544.18 249.52 544.3 250.87 544.42 252.21 C544.54 253.56 544.66 254.91 544.79 256.25 C544.92 257.6 545.05 258.95 545.18 260.29 C545.32 261.64 545.46 262.98 545.6 264.33 C545.75 265.67 545.89 267.02 546.05 268.36 C546.2 269.71 546.36 271.05 546.53 272.4 C546.69 273.74 546.86 275.08 547.04 276.43 C547.22 277.77 547.4 279.11 547.59 280.46 C547.78 281.8 547.97 283.14 548.18 284.48 C548.38 285.82 548.59 287.16 548.81 288.5 C549.03 289.84 549.25 291.18 549.49 292.52 C549.72 293.86 549.96 295.2 550.22 296.54 C550.47 297.87 550.73 299.21 551.01 300.54 C551.29 301.87 551.57 303.19 551.89 304.51 C552.2 305.82 552.53 307.13 552.88 308.43 C553.24 309.72 553.62 311.01 554.02 312.27 C554.43 313.54 554.87 314.79 555.34 316.02 C555.81 317.25 556.31 318.47 556.85 319.66 C557.39 320.84 557.97 322.01 558.59 323.15 C559.21 324.29 559.87 325.41 560.58 326.5 C561.29 327.58 562.04 328.64 562.83 329.67 C563.62 330.7 564.45 331.7 565.31 332.67 C566.18 333.64 567.08 334.58 568.02 335.49 C568.96 336.4 569.94 337.28 570.95 338.13 C571.95 338.97 573 339.79 574.07 340.57 C575.14 341.35 576.24 342.1 577.37 342.81 C578.5 343.52 579.66 344.2 580.85 344.84 C582.03 345.49 583.25 346.09 584.48 346.67 C585.71 347.24 586.97 347.78 588.24 348.29 C589.52 348.8 590.81 349.28 592.12 349.73 C593.43 350.18 594.76 350.6 596.1 351 C597.43 351.39 598.79 351.76 600.14 352.1 C601.5 352.45 602.87 352.76 604.24 353.06 C605.61 353.36 606.99 353.63 608.37 353.88 C609.75 354.13 611.13 354.36 612.51 354.58 C613.89 354.79 615.27 354.99 616.64 355.17 C618.01 355.35 619.38 355.51 620.73 355.66 C622.09 355.81 623.44 355.94 624.78 356.06 C626.12 356.19 627.44 356.29 628.75 356.4 C630.06 356.5 631.36 356.59 632.63 356.67 C633.9 356.75 635.77 356.86 636.39 356.9" fill="none" stroke="#000" stroke-width="2.3" stroke-linecap="butt"/>
<line x1="554.2" y1="202" x2="541.8" y2="220.7" stroke="#000" stroke-width="1.6"/>
<ellipse cx="561.5" cy="191.75" rx="12.3" ry="12.3" fill="#fff" stroke="#000" stroke-width="1.15"/>
<text transform="translate(561.95 197.8) scale(0.66 1)" font-size="15.6" font-weight="bold" font-style="normal" text-anchor="middle" fill="#000" letter-spacing="0.7" stroke="#000" stroke-width="0.2">FE</text>
<text transform="translate(562.25 197.8) scale(0.66 1)" font-size="15.6" font-weight="bold" font-style="normal" text-anchor="middle" fill="#000" letter-spacing="0.7" stroke="#000" stroke-width="0.2">FE</text>
<line x1="564.1" y1="240.4" x2="545.7" y2="256.8" stroke="#000" stroke-width="1.6"/>
<ellipse cx="571.8" cy="230.5" rx="12.4" ry="12.4" fill="#fff" stroke="#000" stroke-width="1.15"/>
<text transform="translate(572.25 236) scale(0.69 1)" font-size="16.2" font-weight="bold" font-style="normal" text-anchor="middle" fill="#000" letter-spacing="0.7" stroke="#000" stroke-width="0.2">AL</text>
<text transform="translate(572.55 236) scale(0.69 1)" font-size="16.2" font-weight="bold" font-style="normal" text-anchor="middle" fill="#000" letter-spacing="0.7" stroke="#000" stroke-width="0.2">AL</text>
<line x1="583.1" y1="279.7" x2="550.6" y2="328.3" stroke="#000" stroke-width="1.6"/>
<ellipse cx="588.75" cy="267.8" rx="15.4" ry="12.2" fill="#fff" stroke="#000" stroke-width="1.15"/>
<text transform="translate(589.2 273.2) scale(0.66 1)" font-size="14.2" font-weight="bold" font-style="normal" text-anchor="middle" fill="#000" letter-spacing="0.7" stroke="#000" stroke-width="0.2">INOX</text>
<text transform="translate(589.5 273.2) scale(0.66 1)" font-size="14.2" font-weight="bold" font-style="normal" text-anchor="middle" fill="#000" letter-spacing="0.7" stroke="#000" stroke-width="0.2">INOX</text>
<line x1="105.5" y1="520.5" x2="105.5" y2="723.5" stroke="#000" stroke-width="1.0" stroke-dasharray="3.2 2.5" stroke-dashoffset="-0.6"/>
<line x1="126.5" y1="520.5" x2="126.5" y2="723.5" stroke="#000" stroke-width="1.0" stroke-dasharray="3.2 2.5" stroke-dashoffset="-0.6"/>
<line x1="147.5" y1="520.5" x2="147.5" y2="723.5" stroke="#000" stroke-width="1.0" stroke-dasharray="3.2 2.5" stroke-dashoffset="-0.6"/>
<line x1="168.5" y1="520.5" x2="168.5" y2="723.5" stroke="#000" stroke-width="1.0" stroke-dasharray="3.2 2.5" stroke-dashoffset="-0.6"/>
<line x1="189.5" y1="520.5" x2="189.5" y2="723.5" stroke="#000" stroke-width="1.0" stroke-dasharray="3.2 2.5" stroke-dashoffset="-0.6"/>
<line x1="210.5" y1="520.5" x2="210.5" y2="723.5" stroke="#000" stroke-width="1.0" stroke-dasharray="3.2 2.5" stroke-dashoffset="-0.6"/>
<line x1="231.5" y1="520.5" x2="231.5" y2="723.5" stroke="#000" stroke-width="1.0" stroke-dasharray="3.2 2.5" stroke-dashoffset="-0.6"/>
<line x1="253.5" y1="520.5" x2="253.5" y2="723.5" stroke="#000" stroke-width="1.0" stroke-dasharray="3.2 2.5" stroke-dashoffset="-0.6"/>
<line x1="273.5" y1="520.5" x2="273.5" y2="723.5" stroke="#000" stroke-width="1.0" stroke-dasharray="3.2 2.5" stroke-dashoffset="-0.6"/>
<line x1="294.5" y1="520.5" x2="294.5" y2="723.5" stroke="#000" stroke-width="1.0" stroke-dasharray="3.2 2.5" stroke-dashoffset="-0.6"/>
<line x1="316.5" y1="520.5" x2="316.5" y2="723.5" stroke="#000" stroke-width="1.0" stroke-dasharray="3.2 2.5" stroke-dashoffset="-0.6"/>
<line x1="337.5" y1="520.5" x2="337.5" y2="723.5" stroke="#000" stroke-width="1.0" stroke-dasharray="3.2 2.5" stroke-dashoffset="-0.6"/>
<line x1="84.5" y1="534.5" x2="358.5" y2="534.5" stroke="#000" stroke-width="1.0" stroke-dasharray="3.3 2.6" stroke-dashoffset="-1"/>
<line x1="84.5" y1="549.5" x2="358.5" y2="549.5" stroke="#000" stroke-width="1.0" stroke-dasharray="3.3 2.6" stroke-dashoffset="-1"/>
<line x1="84.5" y1="562.5" x2="358.5" y2="562.5" stroke="#000" stroke-width="1.0" stroke-dasharray="3.3 2.6" stroke-dashoffset="-1"/>
<line x1="84.5" y1="576.5" x2="358.5" y2="576.5" stroke="#000" stroke-width="1.0" stroke-dasharray="3.3 2.6" stroke-dashoffset="-1"/>
<line x1="84.5" y1="589.5" x2="358.5" y2="589.5" stroke="#000" stroke-width="1.0" stroke-dasharray="3.3 2.6" stroke-dashoffset="-1"/>
<line x1="84.5" y1="602.5" x2="358.5" y2="602.5" stroke="#000" stroke-width="1.0" stroke-dasharray="3.3 2.6" stroke-dashoffset="-1"/>
<line x1="84.5" y1="615.5" x2="358.5" y2="615.5" stroke="#000" stroke-width="1.0" stroke-dasharray="3.3 2.6" stroke-dashoffset="-1"/>
<line x1="84.5" y1="629.5" x2="358.5" y2="629.5" stroke="#000" stroke-width="1.0" stroke-dasharray="3.3 2.6" stroke-dashoffset="-1"/>
<line x1="84.5" y1="642.5" x2="358.5" y2="642.5" stroke="#000" stroke-width="1.0" stroke-dasharray="3.3 2.6" stroke-dashoffset="-1"/>
<line x1="84.5" y1="657.5" x2="358.5" y2="657.5" stroke="#000" stroke-width="1.0" stroke-dasharray="3.3 2.6" stroke-dashoffset="-1"/>
<line x1="84.5" y1="670.5" x2="358.5" y2="670.5" stroke="#000" stroke-width="1.0" stroke-dasharray="3.3 2.6" stroke-dashoffset="-1"/>
<line x1="84.5" y1="683.5" x2="358.5" y2="683.5" stroke="#000" stroke-width="1.0" stroke-dasharray="3.3 2.6" stroke-dashoffset="-1"/>
<line x1="84.5" y1="696.5" x2="358.5" y2="696.5" stroke="#000" stroke-width="1.0" stroke-dasharray="3.3 2.6" stroke-dashoffset="-1"/>
<line x1="84.5" y1="710.5" x2="358.5" y2="710.5" stroke="#000" stroke-width="1.0" stroke-dasharray="3.3 2.6" stroke-dashoffset="-1"/>
<line x1="84.5" y1="717.5" x2="358.5" y2="717.5" stroke="#000" stroke-width="1.0" stroke-dasharray="3.3 2.6" stroke-dashoffset="-1"/>
<path d="M84.5 515.5 H362.5 V723.5 H84.5 Z M84.5 520.5 H358.5" fill="none" stroke="#000" stroke-width="1.1"/>
<line x1="358.5" y1="520.5" x2="358.5" y2="723.5" stroke="#000" stroke-width="1.3"/>
<line x1="115.1" y1="515.5" x2="115.1" y2="520.5" stroke="#000" stroke-width="1.6"/>
<line x1="153" y1="515.5" x2="153" y2="520.5" stroke="#000" stroke-width="1.6"/>
<line x1="217.2" y1="515.5" x2="217.2" y2="520.5" stroke="#000" stroke-width="1.6"/>
<line x1="285.3" y1="515.5" x2="285.3" y2="520.5" stroke="#000" stroke-width="1.6"/>
<line x1="351.6" y1="515.5" x2="351.6" y2="520.5" stroke="#000" stroke-width="1.6"/>
<line x1="358.5" y1="705.8" x2="362.5" y2="705.8" stroke="#000" stroke-width="2.2"/>
<text transform="translate(370.2 709.6) scale(1.14 1)" font-size="10.8" font-weight="bold" font-style="normal" text-anchor="start" fill="#000" letter-spacing="0.9" stroke="#000" stroke-width="0.25">20</text>
<line x1="358.5" y1="688.5" x2="362.5" y2="688.5" stroke="#000" stroke-width="1.2"/>
<text transform="translate(370.2 692.38) scale(1.14 1)" font-size="10.8" font-weight="bold" font-style="normal" text-anchor="start" fill="#000" letter-spacing="0.9" stroke="#000" stroke-width="0.25">40</text>
<line x1="358.5" y1="671.5" x2="362.5" y2="671.5" stroke="#000" stroke-width="1.2"/>
<text transform="translate(370.2 675.16) scale(1.14 1)" font-size="10.8" font-weight="bold" font-style="normal" text-anchor="start" fill="#000" letter-spacing="0.9" stroke="#000" stroke-width="0.25">60</text>
<line x1="358.5" y1="654.6" x2="362.5" y2="654.6" stroke="#000" stroke-width="2.2"/>
<text transform="translate(370.2 657.94) scale(1.14 1)" font-size="10.8" font-weight="bold" font-style="normal" text-anchor="start" fill="#000" letter-spacing="0.9" stroke="#000" stroke-width="0.25">80</text>
<line x1="358.5" y1="637.5" x2="362.5" y2="637.5" stroke="#000" stroke-width="1.2"/>
<text transform="translate(370.2 640.72) scale(1.14 1)" font-size="10.8" font-weight="bold" font-style="normal" text-anchor="start" fill="#000" letter-spacing="0.9" stroke="#000" stroke-width="0.25">100</text>
<line x1="358.5" y1="620.5" x2="362.5" y2="620.5" stroke="#000" stroke-width="1.2"/>
<text transform="translate(370.2 623.5) scale(1.14 1)" font-size="10.8" font-weight="bold" font-style="normal" text-anchor="start" fill="#000" letter-spacing="0.9" stroke="#000" stroke-width="0.25">120</text>
<line x1="358.5" y1="603.5" x2="362.5" y2="603.5" stroke="#000" stroke-width="1.2"/>
<text transform="translate(370.2 606.28) scale(1.14 1)" font-size="10.8" font-weight="bold" font-style="normal" text-anchor="start" fill="#000" letter-spacing="0.9" stroke="#000" stroke-width="0.25">140</text>
<line x1="358.5" y1="586.34" x2="362.5" y2="586.34" stroke="#000" stroke-width="2.2"/>
<text transform="translate(370.2 589.06) scale(1.14 1)" font-size="10.8" font-weight="bold" font-style="normal" text-anchor="start" fill="#000" letter-spacing="0.9" stroke="#000" stroke-width="0.25">160</text>
<line x1="358.5" y1="569.5" x2="362.5" y2="569.5" stroke="#000" stroke-width="1.2"/>
<text transform="translate(370.2 571.84) scale(1.14 1)" font-size="10.8" font-weight="bold" font-style="normal" text-anchor="start" fill="#000" letter-spacing="0.9" stroke="#000" stroke-width="0.25">180</text>
<line x1="358.5" y1="552.5" x2="362.5" y2="552.5" stroke="#000" stroke-width="1.2"/>
<text transform="translate(370.2 554.62) scale(1.14 1)" font-size="10.8" font-weight="bold" font-style="normal" text-anchor="start" fill="#000" letter-spacing="0.9" stroke="#000" stroke-width="0.25">200</text>
<line x1="358.5" y1="535.14" x2="362.5" y2="535.14" stroke="#000" stroke-width="2.2"/>
<text transform="translate(59.2 712) scale(1.03 1)" font-size="9.5" font-weight="bold" font-style="normal" text-anchor="start" fill="#000" stroke="#000" stroke-width="0.25">0.4</text>
<text transform="translate(59.2 699.7) scale(1.03 1)" font-size="9.5" font-weight="bold" font-style="normal" text-anchor="start" fill="#000" stroke="#000" stroke-width="0.25">0.8</text>
<text transform="translate(59.2 686.5) scale(1.03 1)" font-size="9.5" font-weight="bold" font-style="normal" text-anchor="start" fill="#000" stroke="#000" stroke-width="0.25">1.2</text>
<text transform="translate(59.2 672.7) scale(1.03 1)" font-size="9.5" font-weight="bold" font-style="normal" text-anchor="start" fill="#000" stroke="#000" stroke-width="0.25">1.6</text>
<text transform="translate(59.2 659.6) scale(1.03 1)" font-size="9.5" font-weight="bold" font-style="normal" text-anchor="start" fill="#000" stroke="#000" stroke-width="0.25">2.0</text>
<text transform="translate(59.2 645) scale(1.03 1)" font-size="9.5" font-weight="bold" font-style="normal" text-anchor="start" fill="#000" stroke="#000" stroke-width="0.25">2.4</text>
<text transform="translate(59.2 631) scale(1.03 1)" font-size="9.5" font-weight="bold" font-style="normal" text-anchor="start" fill="#000" stroke="#000" stroke-width="0.25">2.8</text>
<text transform="translate(59.2 617.3) scale(1.03 1)" font-size="9.5" font-weight="bold" font-style="normal" text-anchor="start" fill="#000" stroke="#000" stroke-width="0.25">3.2</text>
<text transform="translate(59.2 602.5) scale(1.03 1)" font-size="9.5" font-weight="bold" font-style="normal" text-anchor="start" fill="#000" stroke="#000" stroke-width="0.25">3.6</text>
<text transform="translate(59.2 589.8) scale(1.03 1)" font-size="9.5" font-weight="bold" font-style="normal" text-anchor="start" fill="#000" stroke="#000" stroke-width="0.25">4.0</text>
<text transform="translate(59.2 576) scale(1.03 1)" font-size="9.5" font-weight="bold" font-style="normal" text-anchor="start" fill="#000" stroke="#000" stroke-width="0.25">4.4</text>
<text transform="translate(59.2 563.1) scale(1.03 1)" font-size="9.5" font-weight="bold" font-style="normal" text-anchor="start" fill="#000" stroke="#000" stroke-width="0.25">4.8</text>
<text transform="translate(59.2 550) scale(1.03 1)" font-size="9.5" font-weight="bold" font-style="normal" text-anchor="start" fill="#000" stroke="#000" stroke-width="0.25">5.2</text>
<text transform="translate(105.8 736.3)" font-size="10.6" font-weight="bold" font-style="normal" text-anchor="middle" fill="#000" stroke="#000" stroke-width="0.25">1</text>
<text transform="translate(126.5 736.3)" font-size="10.6" font-weight="bold" font-style="normal" text-anchor="middle" fill="#000" stroke="#000" stroke-width="0.25">2</text>
<text transform="translate(147.7 736.3)" font-size="10.6" font-weight="bold" font-style="normal" text-anchor="middle" fill="#000" stroke="#000" stroke-width="0.25">3</text>
<text transform="translate(168.6 736.3)" font-size="10.6" font-weight="bold" font-style="normal" text-anchor="middle" fill="#000" stroke="#000" stroke-width="0.25">4</text>
<text transform="translate(189.3 736.3)" font-size="10.6" font-weight="bold" font-style="normal" text-anchor="middle" fill="#000" stroke="#000" stroke-width="0.25">5</text>
<text transform="translate(210.8 736.3)" font-size="10.6" font-weight="bold" font-style="normal" text-anchor="middle" fill="#000" stroke="#000" stroke-width="0.25">6</text>
<text transform="translate(231.5 736.3)" font-size="10.6" font-weight="bold" font-style="normal" text-anchor="middle" fill="#000" stroke="#000" stroke-width="0.25">7</text>
<text transform="translate(253.4 736.3)" font-size="10.6" font-weight="bold" font-style="normal" text-anchor="middle" fill="#000" stroke="#000" stroke-width="0.25">8</text>
<text transform="translate(273.7 736.3)" font-size="10.6" font-weight="bold" font-style="normal" text-anchor="middle" fill="#000" stroke="#000" stroke-width="0.25">9</text>
<text transform="translate(294.6 736.3) scale(0.95 1)" font-size="10.6" font-weight="bold" font-style="normal" text-anchor="middle" fill="#000" stroke="#000" stroke-width="0.25">10</text>
<text transform="translate(316.7 736.3) scale(0.95 1)" font-size="10.6" font-weight="bold" font-style="normal" text-anchor="middle" fill="#000" stroke="#000" stroke-width="0.25">11</text>
<text transform="translate(337.7 736.3) scale(0.95 1)" font-size="10.6" font-weight="bold" font-style="normal" text-anchor="middle" fill="#000" stroke="#000" stroke-width="0.25">12</text>
<text transform="translate(87.2 734.4) scale(0.88 1)" font-size="10.5" font-weight="bold" font-style="italic" text-anchor="middle" fill="#000" stroke="#000" stroke-width="0.25">mm</text>
<text transform="translate(117.8 512.8) scale(1.13 1)" font-size="11.6" font-weight="bold" font-style="normal" text-anchor="middle" fill="#000" stroke="#000" stroke-width="0.25">1/16</text>
<text transform="translate(154.8 512.8) scale(1.1 1)" font-size="11.6" font-weight="bold" font-style="normal" text-anchor="middle" fill="#000" stroke="#000" stroke-width="0.25">1/8</text>
<text transform="translate(219 512.8) scale(1.1 1)" font-size="11.6" font-weight="bold" font-style="normal" text-anchor="middle" fill="#000" stroke="#000" stroke-width="0.25">1/4</text>
<text transform="translate(286.8 512.8) scale(1.1 1)" font-size="11.6" font-weight="bold" font-style="normal" text-anchor="middle" fill="#000" stroke="#000" stroke-width="0.25">3/8</text>
<text transform="translate(347.2 510.8) scale(0.86 1)" font-size="10.6" font-weight="bold" font-style="italic" text-anchor="middle" fill="#000" stroke="#000" stroke-width="0.25">inches</text>
<text transform="translate(71.3 520.8) rotate(-90) scale(0.85 1)" font-size="10.4" font-weight="bold" font-style="italic" text-anchor="middle" fill="#000" stroke="#000" stroke-width="0.25">m/min</text>
<text transform="translate(380.8 524.6) rotate(-90) scale(0.73 1)" font-size="10.4" font-weight="bold" font-style="italic" text-anchor="middle" fill="#000" stroke="#000" stroke-width="0.25">inch/min</text>
<path d="M118.03 521.52 C118.09 522.16 118.27 524.09 118.4 525.38 C118.52 526.67 118.64 527.97 118.76 529.27 C118.87 530.58 118.99 531.89 119.11 533.2 C119.22 534.51 119.34 535.83 119.46 537.15 C119.57 538.47 119.69 539.8 119.8 541.13 C119.92 542.46 120.04 543.8 120.15 545.14 C120.27 546.47 120.39 547.81 120.51 549.16 C120.63 550.5 120.75 551.85 120.88 553.2 C121 554.55 121.13 555.9 121.26 557.25 C121.38 558.61 121.52 559.96 121.65 561.32 C121.79 562.68 121.92 564.04 122.07 565.4 C122.21 566.76 122.35 568.12 122.5 569.48 C122.66 570.84 122.81 572.2 122.97 573.56 C123.13 574.93 123.3 576.29 123.47 577.65 C123.64 579.01 123.81 580.37 124 581.73 C124.18 583.09 124.37 584.45 124.56 585.81 C124.76 587.17 124.96 588.53 125.17 589.88 C125.38 591.24 125.6 592.59 125.82 593.94 C126.05 595.29 126.28 596.64 126.52 597.99 C126.76 599.34 127.01 600.68 127.27 602.02 C127.53 603.36 127.79 604.7 128.07 606.03 C128.35 607.36 128.64 608.69 128.93 610.02 C129.23 611.35 129.54 612.67 129.86 613.98 C130.17 615.3 130.5 616.61 130.84 617.92 C131.18 619.23 131.53 620.53 131.9 621.83 C132.26 623.12 132.64 624.41 133.03 625.7 C133.41 626.98 133.81 628.26 134.23 629.54 C134.64 630.81 135.07 632.08 135.51 633.33 C135.95 634.59 136.4 635.85 136.87 637.09 C137.34 638.34 137.82 639.57 138.31 640.8 C138.81 642.03 139.32 643.25 139.85 644.47 C140.38 645.68 140.92 646.89 141.48 648.08 C142.04 649.28 142.61 650.47 143.2 651.64 C143.79 652.82 144.4 653.99 145.02 655.15 C145.65 656.31 146.29 657.46 146.95 658.6 C147.61 659.74 148.28 660.87 148.98 661.98 C149.67 663.1 150.39 664.21 151.12 665.31 C151.85 666.4 152.6 667.49 153.37 668.56 C154.14 669.63 154.93 670.7 155.74 671.75 C156.55 672.8 157.38 673.83 158.22 674.86 C159.07 675.88 159.94 676.9 160.83 677.9 C161.71 678.9 162.62 679.88 163.54 680.85 C164.46 681.83 165.41 682.79 166.36 683.73 C167.32 684.67 168.29 685.61 169.28 686.52 C170.27 687.44 171.28 688.34 172.3 689.22 C173.33 690.11 174.36 690.98 175.41 691.83 C176.47 692.69 177.53 693.53 178.61 694.35 C179.69 695.17 180.79 695.98 181.89 696.77 C183 697.56 184.12 698.33 185.25 699.08 C186.39 699.84 187.53 700.57 188.69 701.29 C189.84 702.01 191.01 702.72 192.19 703.4 C193.37 704.08 194.55 704.75 195.75 705.39 C196.95 706.04 198.16 706.66 199.38 707.27 C200.59 707.88 201.82 708.47 203.05 709.03 C204.29 709.6 205.53 710.15 206.78 710.67 C208.03 711.2 209.29 711.71 210.55 712.19 C211.82 712.68 213.09 713.14 214.37 713.58 C215.64 714.02 216.93 714.45 218.21 714.84 C219.5 715.24 220.79 715.62 222.09 715.97 C223.39 716.33 224.69 716.66 226 716.98 C227.3 717.29 228.62 717.58 229.93 717.86 C231.24 718.13 232.56 718.39 233.88 718.63 C235.21 718.87 236.53 719.09 237.86 719.3 C239.19 719.5 240.52 719.69 241.85 719.86 C243.19 720.04 244.52 720.19 245.86 720.34 C247.2 720.48 248.54 720.61 249.88 720.73 C251.23 720.85 252.57 720.96 253.92 721.05 C255.26 721.14 256.61 721.22 257.96 721.3 C259.31 721.37 260.66 721.43 262.01 721.48 C263.36 721.53 264.71 721.58 266.06 721.61 C267.41 721.65 268.76 721.67 270.11 721.69 C271.46 721.72 272.81 721.73 274.16 721.74 C275.51 721.74 276.86 721.75 278.2 721.74 C279.55 721.74 280.9 721.74 282.24 721.73 C283.59 721.72 284.93 721.7 286.27 721.69 C287.61 721.68 288.95 721.66 290.29 721.64 C291.63 721.62 293.63 721.6 294.3 721.59" fill="none" stroke="#5a5a5a" stroke-width="2.6" stroke-dasharray="15 4.3" stroke-linecap="butt"/>
<path d="M127.73 521.51 C127.77 522.16 127.88 524.08 127.95 525.37 C128.02 526.67 128.1 527.97 128.17 529.27 C128.25 530.57 128.32 531.88 128.4 533.19 C128.48 534.5 128.55 535.82 128.64 537.14 C128.72 538.45 128.8 539.78 128.89 541.1 C128.97 542.43 129.06 543.76 129.15 545.09 C129.24 546.42 129.34 547.76 129.44 549.1 C129.54 550.43 129.64 551.77 129.74 553.12 C129.85 554.46 129.96 555.8 130.08 557.15 C130.19 558.49 130.31 559.84 130.44 561.19 C130.56 562.53 130.69 563.88 130.83 565.23 C130.97 566.58 131.11 567.93 131.26 569.28 C131.41 570.63 131.56 571.98 131.72 573.33 C131.88 574.68 132.05 576.03 132.23 577.37 C132.4 578.72 132.59 580.07 132.78 581.41 C132.97 582.76 133.17 584.11 133.37 585.45 C133.58 586.79 133.79 588.13 134.02 589.47 C134.24 590.81 134.47 592.15 134.72 593.48 C134.96 594.81 135.21 596.15 135.47 597.47 C135.73 598.8 136 600.13 136.28 601.45 C136.57 602.77 136.86 604.09 137.16 605.4 C137.46 606.71 137.78 608.02 138.1 609.33 C138.43 610.63 138.76 611.94 139.11 613.23 C139.46 614.53 139.82 615.82 140.19 617.1 C140.56 618.39 140.95 619.67 141.35 620.94 C141.74 622.22 142.15 623.48 142.58 624.75 C143 626.01 143.44 627.26 143.89 628.51 C144.34 629.76 144.81 631 145.29 632.24 C145.77 633.47 146.26 634.7 146.77 635.92 C147.28 637.14 147.81 638.35 148.34 639.55 C148.88 640.76 149.44 641.95 150.01 643.14 C150.58 644.33 151.17 645.51 151.77 646.67 C152.38 647.84 153 649 153.63 650.15 C154.27 651.31 154.93 652.45 155.6 653.58 C156.27 654.71 156.96 655.83 157.66 656.94 C158.37 658.05 159.09 659.15 159.83 660.24 C160.57 661.33 161.32 662.41 162.09 663.48 C162.86 664.55 163.65 665.6 164.45 666.65 C165.25 667.7 166.07 668.73 166.9 669.75 C167.73 670.78 168.58 671.79 169.44 672.79 C170.31 673.78 171.18 674.77 172.08 675.74 C172.97 676.72 173.87 677.68 174.79 678.63 C175.71 679.58 176.64 680.51 177.59 681.44 C178.54 682.36 179.5 683.27 180.47 684.17 C181.45 685.06 182.43 685.94 183.43 686.81 C184.43 687.68 185.45 688.54 186.47 689.38 C187.49 690.22 188.53 691.04 189.58 691.85 C190.63 692.66 191.69 693.46 192.76 694.24 C193.84 695.03 194.92 695.79 196.02 696.54 C197.11 697.29 198.22 698.03 199.33 698.75 C200.45 699.47 201.58 700.18 202.72 700.86 C203.86 701.55 205.01 702.23 206.16 702.88 C207.32 703.54 208.49 704.18 209.67 704.8 C210.85 705.42 212.04 706.03 213.23 706.62 C214.43 707.21 215.64 707.78 216.85 708.33 C218.07 708.89 219.29 709.42 220.52 709.94 C221.76 710.46 223 710.96 224.25 711.44 C225.5 711.93 226.75 712.39 228.02 712.84 C229.28 713.28 230.55 713.71 231.83 714.12 C233.11 714.52 234.4 714.91 235.69 715.28 C236.99 715.65 238.29 716 239.59 716.33 C240.9 716.66 242.21 716.98 243.53 717.27 C244.85 717.56 246.18 717.83 247.51 718.08 C248.84 718.33 250.18 718.56 251.52 718.77 C252.86 718.98 254.21 719.17 255.56 719.33 C256.91 719.5 258.27 719.65 259.63 719.77 C260.99 719.9 263.05 720.03 263.73 720.08" fill="none" stroke="#000" stroke-width="2.6" stroke-dasharray="2.4 3.0" stroke-linecap="butt"/>
<path d="M123.42 521.53 C123.46 522.16 123.55 524.05 123.62 525.33 C123.69 526.6 123.75 527.88 123.82 529.16 C123.89 530.45 123.96 531.74 124.04 533.04 C124.11 534.34 124.18 535.64 124.26 536.95 C124.34 538.26 124.42 539.57 124.5 540.89 C124.58 542.21 124.67 543.54 124.76 544.86 C124.85 546.19 124.94 547.52 125.04 548.86 C125.13 550.19 125.23 551.53 125.34 552.87 C125.44 554.21 125.55 555.56 125.67 556.91 C125.78 558.25 125.9 559.6 126.02 560.95 C126.15 562.31 126.28 563.66 126.41 565.02 C126.55 566.37 126.69 567.73 126.83 569.08 C126.98 570.44 127.13 571.8 127.29 573.16 C127.45 574.52 127.62 575.88 127.79 577.24 C127.96 578.6 128.14 579.96 128.33 581.31 C128.52 582.67 128.71 584.03 128.92 585.39 C129.12 586.74 129.33 588.1 129.55 589.45 C129.77 590.81 130 592.16 130.24 593.51 C130.47 594.86 130.72 596.21 130.98 597.55 C131.23 598.9 131.5 600.24 131.77 601.58 C132.04 602.92 132.33 604.25 132.62 605.58 C132.92 606.91 133.22 608.24 133.54 609.57 C133.85 610.89 134.18 612.21 134.52 613.52 C134.85 614.84 135.2 616.15 135.56 617.45 C135.92 618.76 136.3 620.05 136.68 621.35 C137.06 622.64 137.46 623.93 137.87 625.21 C138.28 626.49 138.7 627.76 139.13 629.03 C139.57 630.3 140.01 631.56 140.47 632.81 C140.94 634.06 141.41 635.31 141.9 636.54 C142.39 637.78 142.89 639.01 143.4 640.23 C143.92 641.45 144.45 642.66 145 643.86 C145.54 645.07 146.1 646.26 146.68 647.44 C147.25 648.63 147.84 649.8 148.45 650.97 C149.06 652.13 149.68 653.29 150.32 654.43 C150.96 655.57 151.61 656.71 152.28 657.83 C152.96 658.95 153.64 660.06 154.35 661.16 C155.06 662.26 155.78 663.34 156.52 664.42 C157.26 665.49 158.01 666.55 158.79 667.6 C159.57 668.65 160.36 669.69 161.17 670.71 C161.98 671.74 162.81 672.75 163.66 673.75 C164.5 674.74 165.36 675.73 166.24 676.7 C167.12 677.67 168.02 678.63 168.93 679.57 C169.84 680.51 170.77 681.44 171.71 682.36 C172.65 683.27 173.61 684.17 174.58 685.06 C175.55 685.95 176.54 686.82 177.54 687.68 C178.54 688.53 179.56 689.38 180.59 690.21 C181.62 691.03 182.66 691.85 183.72 692.64 C184.77 693.44 185.84 694.23 186.92 694.99 C188 695.76 189.1 696.51 190.2 697.25 C191.31 697.98 192.43 698.71 193.56 699.41 C194.69 700.11 195.83 700.8 196.98 701.47 C198.13 702.15 199.3 702.8 200.47 703.44 C201.65 704.08 202.83 704.71 204.02 705.31 C205.22 705.92 206.42 706.51 207.63 707.08 C208.85 707.65 210.07 708.21 211.3 708.75 C212.53 709.28 213.77 709.8 215.02 710.31 C216.27 710.81 217.52 711.3 218.79 711.76 C220.05 712.23 221.32 712.68 222.6 713.11 C223.88 713.55 225.17 713.96 226.46 714.36 C227.75 714.76 229.05 715.14 230.35 715.5 C231.66 715.86 232.97 716.21 234.28 716.54 C235.6 716.87 236.91 717.18 238.24 717.48 C239.56 717.78 240.89 718.06 242.22 718.32 C243.55 718.59 244.88 718.84 246.22 719.07 C247.56 719.31 248.9 719.53 250.24 719.73 C251.58 719.93 252.92 720.12 254.27 720.29 C255.61 720.47 256.96 720.63 258.31 720.77 C259.65 720.91 261 721.04 262.35 721.16 C263.7 721.27 265.04 721.38 266.39 721.46 C267.74 721.55 269.08 721.62 270.43 721.68 C271.77 721.74 273.11 721.79 274.45 721.82 C275.79 721.86 277.13 721.88 278.47 721.88 C279.8 721.89 281.13 721.88 282.46 721.87 C283.79 721.85 285.11 721.82 286.43 721.77 C287.75 721.73 289.07 721.68 290.38 721.61 C291.69 721.54 293.65 721.41 294.3 721.37" fill="none" stroke="#000" stroke-width="2.3" stroke-linecap="butt"/>
<line x1="169.3" y1="576.5" x2="136.6" y2="605.9" stroke="#000" stroke-width="1.6"/>
<ellipse cx="179.1" cy="562.75" rx="15.9" ry="15.9" fill="#fff" stroke="#000" stroke-width="1.15"/>
<text transform="translate(179.55 569.9) scale(0.637 1)" font-size="23.2" font-weight="bold" font-style="normal" text-anchor="middle" fill="#000" letter-spacing="0.7" stroke="#000" stroke-width="0.2">AL</text>
<text transform="translate(179.85 569.9) scale(0.637 1)" font-size="23.2" font-weight="bold" font-style="normal" text-anchor="middle" fill="#000" letter-spacing="0.7" stroke="#000" stroke-width="0.2">AL</text>
<line x1="202.2" y1="622.9" x2="170" y2="682.2" stroke="#000" stroke-width="1.6"/>
<ellipse cx="212.3" cy="608.8" rx="15.8" ry="15.8" fill="#fff" stroke="#000" stroke-width="1.15"/>
<text transform="translate(212.75 616.8) scale(0.648 1)" font-size="20" font-weight="bold" font-style="normal" text-anchor="middle" fill="#000" letter-spacing="0.7" stroke="#000" stroke-width="0.2">FE</text>
<text transform="translate(213.05 616.8) scale(0.648 1)" font-size="20" font-weight="bold" font-style="normal" text-anchor="middle" fill="#000" letter-spacing="0.7" stroke="#000" stroke-width="0.2">FE</text>
<line x1="244.4" y1="657.9" x2="214.4" y2="710.1" stroke="#000" stroke-width="1.6"/>
<ellipse cx="252.2" cy="643.15" rx="20" ry="15.75" fill="#fff" stroke="#000" stroke-width="1.15"/>
<text transform="translate(252.65 649.55) scale(0.64 1)" font-size="18.5" font-weight="bold" font-style="normal" text-anchor="middle" fill="#000" letter-spacing="0.7" stroke="#000" stroke-width="0.2">INOX</text>
<text transform="translate(252.95 649.55) scale(0.64 1)" font-size="18.5" font-weight="bold" font-style="normal" text-anchor="middle" fill="#000" letter-spacing="0.7" stroke="#000" stroke-width="0.2">INOX</text>
<line x1="482.5" y1="522.5" x2="482.5" y2="712.5" stroke="#000" stroke-width="1.0"/>
<line x1="500.5" y1="522.5" x2="500.5" y2="712.5" stroke="#000" stroke-width="1.0"/>
<line x1="517.5" y1="522.5" x2="517.5" y2="712.5" stroke="#000" stroke-width="1.0"/>
<line x1="535.5" y1="522.5" x2="535.5" y2="712.5" stroke="#000" stroke-width="1.0"/>
<line x1="552.5" y1="522.5" x2="552.5" y2="712.5" stroke="#000" stroke-width="1.0"/>
<line x1="569.5" y1="522.5" x2="569.5" y2="712.5" stroke="#000" stroke-width="1.0"/>
<line x1="587.5" y1="522.5" x2="587.5" y2="712.5" stroke="#000" stroke-width="1.0"/>
<line x1="604.5" y1="522.5" x2="604.5" y2="712.5" stroke="#000" stroke-width="1.0"/>
<line x1="622.5" y1="522.5" x2="622.5" y2="712.5" stroke="#000" stroke-width="1.0"/>
<line x1="639.5" y1="522.5" x2="639.5" y2="712.5" stroke="#000" stroke-width="1.0"/>
<line x1="657.5" y1="522.5" x2="657.5" y2="712.5" stroke="#000" stroke-width="1.0"/>
<line x1="674.5" y1="522.5" x2="674.5" y2="712.5" stroke="#000" stroke-width="1.0"/>
<line x1="691.5" y1="522.5" x2="691.5" y2="712.5" stroke="#000" stroke-width="1.0"/>
<line x1="709.5" y1="522.5" x2="709.5" y2="712.5" stroke="#000" stroke-width="1.0"/>
<line x1="726.5" y1="522.5" x2="726.5" y2="712.5" stroke="#000" stroke-width="1.0"/>
<line x1="465.5" y1="539.5" x2="744.5" y2="539.5" stroke="#000" stroke-width="1.0" stroke-dasharray="6 1.4"/>
<line x1="465.5" y1="557.5" x2="744.5" y2="557.5" stroke="#000" stroke-width="1.0" stroke-dasharray="6 1.4"/>
<line x1="465.5" y1="574.5" x2="744.5" y2="574.5" stroke="#000" stroke-width="1.0" stroke-dasharray="6 1.4"/>
<line x1="465.5" y1="591.5" x2="744.5" y2="591.5" stroke="#000" stroke-width="1.0" stroke-dasharray="6 1.4"/>
<line x1="465.5" y1="608.5" x2="744.5" y2="608.5" stroke="#000" stroke-width="1.0" stroke-dasharray="6 1.4"/>
<line x1="465.5" y1="626.5" x2="744.5" y2="626.5" stroke="#000" stroke-width="1.0" stroke-dasharray="6 1.4"/>
<line x1="465.5" y1="643.5" x2="744.5" y2="643.5" stroke="#000" stroke-width="1.0" stroke-dasharray="6 1.4"/>
<line x1="465.5" y1="660.5" x2="744.5" y2="660.5" stroke="#000" stroke-width="1.0" stroke-dasharray="6 1.4"/>
<line x1="465.5" y1="677.5" x2="744.5" y2="677.5" stroke="#000" stroke-width="1.0" stroke-dasharray="6 1.4"/>
<line x1="465.5" y1="695.5" x2="744.5" y2="695.5" stroke="#000" stroke-width="1.0" stroke-dasharray="6 1.4"/>
<path d="M465.5 517.5 H748.5 V712.5 H465.5 Z M465.5 522.5 H744.5 V712.5" fill="none" stroke="#000" stroke-width="1.1"/>
<line x1="486.5" y1="517.5" x2="486.5" y2="522.5" stroke="#000" stroke-width="1.1"/>
<line x1="541.5" y1="517.5" x2="541.5" y2="522.5" stroke="#000" stroke-width="1.1"/>
<line x1="596.5" y1="517.5" x2="596.5" y2="522.5" stroke="#000" stroke-width="1.1"/>
<line x1="656.5" y1="517.5" x2="656.5" y2="522.5" stroke="#000" stroke-width="1.1"/>
<line x1="709.5" y1="517.5" x2="709.5" y2="522.5" stroke="#000" stroke-width="1.1"/>
<line x1="735.5" y1="517.5" x2="735.5" y2="522.5" stroke="#000" stroke-width="1.1"/>
<line x1="744.5" y1="690.5" x2="748.5" y2="690.5" stroke="#000" stroke-width="1.1"/>
<text transform="translate(752.3 692.7) scale(1.12 1)" font-size="10.4" font-weight="bold" font-style="normal" text-anchor="start" fill="#000" letter-spacing="0.3" stroke="#000" stroke-width="0.25">20</text>
<line x1="744.5" y1="668.5" x2="748.5" y2="668.5" stroke="#000" stroke-width="1.1"/>
<text transform="translate(752.3 671.2) scale(1.12 1)" font-size="10.4" font-weight="bold" font-style="normal" text-anchor="start" fill="#000" letter-spacing="0.3" stroke="#000" stroke-width="0.25">40</text>
<line x1="744.5" y1="646.5" x2="748.5" y2="646.5" stroke="#000" stroke-width="1.1"/>
<text transform="translate(752.3 649.7) scale(1.12 1)" font-size="10.4" font-weight="bold" font-style="normal" text-anchor="start" fill="#000" letter-spacing="0.3" stroke="#000" stroke-width="0.25">60</text>
<line x1="744.5" y1="624.5" x2="748.5" y2="624.5" stroke="#000" stroke-width="1.1"/>
<text transform="translate(752.3 626.3) scale(1.12 1)" font-size="10.4" font-weight="bold" font-style="normal" text-anchor="start" fill="#000" letter-spacing="0.3" stroke="#000" stroke-width="0.25">80</text>
<line x1="744.5" y1="602.5" x2="748.5" y2="602.5" stroke="#000" stroke-width="1.1"/>
<text transform="translate(752.3 604.6) scale(1.12 1)" font-size="10.4" font-weight="bold" font-style="normal" text-anchor="start" fill="#000" letter-spacing="0.3" stroke="#000" stroke-width="0.25">100</text>
<line x1="744.5" y1="580.5" x2="748.5" y2="580.5" stroke="#000" stroke-width="1.1"/>
<text transform="translate(752.3 583.1) scale(1.12 1)" font-size="10.4" font-weight="bold" font-style="normal" text-anchor="start" fill="#000" letter-spacing="0.3" stroke="#000" stroke-width="0.25">120</text>
<line x1="744.5" y1="558.5" x2="748.5" y2="558.5" stroke="#000" stroke-width="1.1"/>
<text transform="translate(752.3 561.8) scale(1.12 1)" font-size="10.4" font-weight="bold" font-style="normal" text-anchor="start" fill="#000" letter-spacing="0.3" stroke="#000" stroke-width="0.25">140</text>
<line x1="744.5" y1="536.5" x2="748.5" y2="536.5" stroke="#000" stroke-width="1.1"/>
<text transform="translate(752.3 539.2) scale(1.12 1)" font-size="10.4" font-weight="bold" font-style="normal" text-anchor="start" fill="#000" letter-spacing="0.3" stroke="#000" stroke-width="0.25">160</text>
<text transform="translate(445 541.5) scale(1.05 1)" font-size="10.8" font-weight="bold" font-style="normal" text-anchor="start" fill="#000" stroke="#000" stroke-width="0.25">4.0</text>
<text transform="translate(445 558.92) scale(1.05 1)" font-size="10.8" font-weight="bold" font-style="normal" text-anchor="start" fill="#000" stroke="#000" stroke-width="0.25">3.6</text>
<text transform="translate(445 576.34) scale(1.05 1)" font-size="10.8" font-weight="bold" font-style="normal" text-anchor="start" fill="#000" stroke="#000" stroke-width="0.25">3.2</text>
<text transform="translate(445 593.76) scale(1.05 1)" font-size="10.8" font-weight="bold" font-style="normal" text-anchor="start" fill="#000" stroke="#000" stroke-width="0.25">2.8</text>
<text transform="translate(445 611.18) scale(1.05 1)" font-size="10.8" font-weight="bold" font-style="normal" text-anchor="start" fill="#000" stroke="#000" stroke-width="0.25">2.4</text>
<text transform="translate(445 628.6) scale(1.05 1)" font-size="10.8" font-weight="bold" font-style="normal" text-anchor="start" fill="#000" stroke="#000" stroke-width="0.25">2.0</text>
<text transform="translate(445 646.02) scale(1.05 1)" font-size="10.8" font-weight="bold" font-style="normal" text-anchor="start" fill="#000" stroke="#000" stroke-width="0.25">1.6</text>
<text transform="translate(445 663.44) scale(1.05 1)" font-size="10.8" font-weight="bold" font-style="normal" text-anchor="start" fill="#000" stroke="#000" stroke-width="0.25">1.2</text>
<text transform="translate(445 680.86) scale(1.05 1)" font-size="10.8" font-weight="bold" font-style="normal" text-anchor="start" fill="#000" stroke="#000" stroke-width="0.25">0.8</text>
<text transform="translate(449 698.28) scale(1.05 1)" font-size="10.8" font-weight="bold" font-style="normal" text-anchor="start" fill="#000" stroke="#000" stroke-width="0.25">0.4</text>
<text transform="translate(482.9 724.2) scale(1.05 1)" font-size="10.4" font-weight="bold" font-style="normal" text-anchor="middle" fill="#000" stroke="#000" stroke-width="0.25">3</text>
<text transform="translate(500.5 724.2) scale(1.05 1)" font-size="10.4" font-weight="bold" font-style="normal" text-anchor="middle" fill="#000" stroke="#000" stroke-width="0.25">4</text>
<text transform="translate(518 724.2) scale(1.05 1)" font-size="10.4" font-weight="bold" font-style="normal" text-anchor="middle" fill="#000" stroke="#000" stroke-width="0.25">5</text>
<text transform="translate(535.1 724.2) scale(1.05 1)" font-size="10.4" font-weight="bold" font-style="normal" text-anchor="middle" fill="#000" stroke="#000" stroke-width="0.25">6</text>
<text transform="translate(552.4 724.2) scale(1.05 1)" font-size="10.4" font-weight="bold" font-style="normal" text-anchor="middle" fill="#000" stroke="#000" stroke-width="0.25">7</text>
<text transform="translate(570 724.2) scale(1.05 1)" font-size="10.4" font-weight="bold" font-style="normal" text-anchor="middle" fill="#000" stroke="#000" stroke-width="0.25">8</text>
<text transform="translate(587.9 724.2) scale(1.05 1)" font-size="10.4" font-weight="bold" font-style="normal" text-anchor="middle" fill="#000" stroke="#000" stroke-width="0.25">9</text>
<text transform="translate(605.4 724.2)" font-size="10.4" font-weight="bold" font-style="normal" text-anchor="middle" fill="#000" stroke="#000" stroke-width="0.25">10</text>
<text transform="translate(621.5 724.2)" font-size="10.4" font-weight="bold" font-style="normal" text-anchor="middle" fill="#000" stroke="#000" stroke-width="0.25">11</text>
<text transform="translate(639.7 724.2)" font-size="10.4" font-weight="bold" font-style="normal" text-anchor="middle" fill="#000" stroke="#000" stroke-width="0.25">12</text>
<text transform="translate(657.3 724.2)" font-size="10.4" font-weight="bold" font-style="normal" text-anchor="middle" fill="#000" stroke="#000" stroke-width="0.25">13</text>
<text transform="translate(674.3 724.2)" font-size="10.4" font-weight="bold" font-style="normal" text-anchor="middle" fill="#000" stroke="#000" stroke-width="0.25">14</text>
<text transform="translate(691.5 724.2)" font-size="10.4" font-weight="bold" font-style="normal" text-anchor="middle" fill="#000" stroke="#000" stroke-width="0.25">15</text>
<text transform="translate(707.5 724.2)" font-size="10.4" font-weight="bold" font-style="normal" text-anchor="middle" fill="#000" stroke="#000" stroke-width="0.25">16</text>
<text transform="translate(725.8 724.2)" font-size="10.4" font-weight="bold" font-style="normal" text-anchor="middle" fill="#000" stroke="#000" stroke-width="0.25">18</text>
<text transform="translate(742.3 724.2)" font-size="10.4" font-weight="bold" font-style="normal" text-anchor="middle" fill="#000" stroke="#000" stroke-width="0.25">20</text>
<text transform="translate(465.6 722.4) scale(0.85 1)" font-size="10.2" font-weight="bold" font-style="italic" text-anchor="middle" fill="#000" stroke="#000" stroke-width="0.25">mm</text>
<text transform="translate(488 514.3) scale(1.08 1)" font-size="10.2" font-weight="bold" font-style="normal" text-anchor="middle" fill="#000" stroke="#000" stroke-width="0.25">1/8</text>
<text transform="translate(544.6 514.3) scale(1.08 1)" font-size="10.2" font-weight="bold" font-style="normal" text-anchor="middle" fill="#000" stroke="#000" stroke-width="0.25">1/4</text>
<text transform="translate(599 514.3) scale(1.08 1)" font-size="10.2" font-weight="bold" font-style="normal" text-anchor="middle" fill="#000" stroke="#000" stroke-width="0.25">3/8</text>
<text transform="translate(657.2 514.3) scale(1.08 1)" font-size="10.2" font-weight="bold" font-style="normal" text-anchor="middle" fill="#000" stroke="#000" stroke-width="0.25">1/2</text>
<text transform="translate(709 514.3) scale(1.08 1)" font-size="10.2" font-weight="bold" font-style="normal" text-anchor="middle" fill="#000" stroke="#000" stroke-width="0.25">5/8</text>
<text transform="translate(738.2 514.3) scale(1.08 1)" font-size="10.2" font-weight="bold" font-style="normal" text-anchor="middle" fill="#000" stroke="#000" stroke-width="0.25">3/4</text>
<text transform="translate(766.4 513.6) scale(0.85 1)" font-size="9.8" font-weight="bold" font-style="italic" text-anchor="middle" fill="#000" stroke="#000" stroke-width="0.25">inches</text>
<text transform="translate(455 514.3) rotate(-90) scale(0.82 1)" font-size="9.6" font-weight="bold" font-style="italic" text-anchor="middle" fill="#000" stroke="#000" stroke-width="0.25">m/min</text>
<text transform="translate(762 712.8) rotate(-90) scale(0.68 1)" font-size="9.6" font-weight="bold" font-style="italic" text-anchor="middle" fill="#000" stroke="#000" stroke-width="0.25">inch/min</text>
<path d="M480.83 550.09 C480.97 550.74 481.36 552.71 481.64 554.02 C481.93 555.33 482.23 556.63 482.54 557.94 C482.86 559.24 483.19 560.54 483.53 561.84 C483.87 563.14 484.23 564.44 484.6 565.73 C484.97 567.02 485.36 568.31 485.76 569.6 C486.16 570.88 486.57 572.16 487 573.44 C487.43 574.72 487.87 575.99 488.32 577.26 C488.78 578.53 489.25 579.8 489.73 581.06 C490.21 582.32 490.71 583.58 491.22 584.83 C491.73 586.08 492.25 587.32 492.79 588.56 C493.32 589.8 493.87 591.04 494.44 592.27 C495 593.5 495.57 594.72 496.16 595.94 C496.75 597.15 497.35 598.37 497.97 599.57 C498.58 600.78 499.21 601.97 499.85 603.16 C500.49 604.36 501.14 605.54 501.8 606.72 C502.47 607.89 503.14 609.07 503.83 610.23 C504.52 611.39 505.22 612.54 505.93 613.69 C506.65 614.84 507.37 615.98 508.11 617.11 C508.85 618.24 509.6 619.36 510.36 620.47 C511.12 621.59 511.89 622.69 512.67 623.79 C513.46 624.88 514.25 625.97 515.06 627.05 C515.87 628.13 516.69 629.19 517.52 630.25 C518.35 631.31 519.19 632.36 520.04 633.4 C520.89 634.44 521.76 635.47 522.63 636.48 C523.5 637.5 524.39 638.51 525.28 639.51 C526.18 640.5 527.09 641.49 528 642.46 C528.92 643.44 529.85 644.4 530.79 645.35 C531.73 646.3 532.67 647.24 533.63 648.17 C534.59 649.1 535.56 650.02 536.54 650.92 C537.52 651.83 538.51 652.72 539.51 653.6 C540.51 654.48 541.52 655.34 542.54 656.2 C543.55 657.05 544.58 657.89 545.62 658.72 C546.66 659.55 547.71 660.36 548.77 661.16 C549.82 661.96 550.89 662.75 551.97 663.52 C553.04 664.29 554.13 665.05 555.22 665.79 C556.32 666.54 557.42 667.27 558.54 667.98 C559.65 668.7 560.77 669.4 561.9 670.08 C563.03 670.77 564.17 671.43 565.32 672.09 C566.47 672.74 567.62 673.38 568.79 674 C569.95 674.63 571.13 675.23 572.31 675.82 C573.49 676.41 574.68 676.99 575.88 677.55 C577.08 678.1 578.28 678.64 579.5 679.17 C580.71 679.69 581.93 680.2 583.16 680.69 C584.39 681.18 585.63 681.65 586.88 682.11 C588.12 682.57 589.37 683.01 590.63 683.44 C591.89 683.87 593.15 684.28 594.43 684.68 C595.7 685.08 596.97 685.47 598.26 685.84 C599.54 686.21 600.83 686.57 602.12 686.92 C603.42 687.27 604.72 687.6 606.02 687.92 C607.32 688.24 608.63 688.55 609.95 688.85 C611.26 689.15 612.58 689.44 613.9 689.72 C615.22 690 616.54 690.27 617.87 690.53 C619.2 690.79 620.53 691.04 621.87 691.28 C623.2 691.52 624.54 691.75 625.88 691.98 C627.22 692.2 628.56 692.42 629.91 692.63 C631.25 692.84 632.6 693.04 633.95 693.24 C635.29 693.43 636.64 693.62 637.99 693.81 C639.34 693.99 640.7 694.17 642.05 694.35 C643.4 694.52 644.75 694.69 646.11 694.86 C647.46 695.02 648.81 695.18 650.17 695.34 C651.52 695.5 652.87 695.66 654.22 695.81 C655.57 695.97 656.92 696.12 658.27 696.27 C659.62 696.41 660.97 696.56 662.32 696.71 C663.67 696.86 665.01 697 666.36 697.15 C667.7 697.29 669.04 697.43 670.38 697.58 C671.72 697.72 673.06 697.86 674.4 698 C675.74 698.14 677.08 698.28 678.42 698.42 C679.75 698.56 681.09 698.7 682.42 698.83 C683.76 698.97 685.09 699.11 686.43 699.24 C687.76 699.38 689.09 699.51 690.42 699.65 C691.76 699.78 693.09 699.91 694.42 700.05 C695.75 700.18 697.08 700.31 698.41 700.44 C699.74 700.58 701.07 700.71 702.4 700.84 C703.73 700.97 705.05 701.1 706.38 701.23 C707.71 701.36 709.04 701.49 710.37 701.62 C711.7 701.75 713.02 701.88 714.35 702.01 C715.68 702.14 717.01 702.27 718.34 702.4 C719.67 702.53 720.99 702.66 722.32 702.78 C723.65 702.91 724.98 703.04 726.31 703.17 C727.64 703.3 728.97 703.43 730.3 703.56 C731.63 703.69 732.96 703.81 734.29 703.94 C735.62 704.07 736.96 704.2 738.29 704.33 C739.62 704.46 741.62 704.66 742.29 704.72" fill="none" stroke="#5a5a5a" stroke-width="2.6" stroke-dasharray="13 7" stroke-linecap="butt"/>
<path d="M513.38 552.21 C513.64 552.82 514.4 554.65 514.93 555.87 C515.46 557.09 516 558.3 516.55 559.51 C517.1 560.72 517.67 561.92 518.24 563.12 C518.82 564.32 519.4 565.51 520 566.7 C520.59 567.89 521.2 569.08 521.82 570.25 C522.44 571.43 523.07 572.61 523.71 573.77 C524.35 574.94 525 576.1 525.66 577.26 C526.32 578.42 527 579.57 527.68 580.71 C528.36 581.86 529.05 583 529.76 584.13 C530.46 585.27 531.17 586.4 531.9 587.52 C532.62 588.64 533.35 589.75 534.1 590.86 C534.84 591.97 535.59 593.08 536.36 594.17 C537.12 595.27 537.89 596.36 538.68 597.44 C539.46 598.53 540.25 599.6 541.05 600.67 C541.85 601.74 542.66 602.81 543.48 603.86 C544.3 604.92 545.13 605.97 545.97 607.01 C546.81 608.05 547.66 609.09 548.52 610.11 C549.37 611.14 550.24 612.16 551.11 613.17 C551.99 614.19 552.87 615.19 553.76 616.19 C554.65 617.19 555.55 618.18 556.46 619.16 C557.37 620.14 558.29 621.11 559.21 622.08 C560.14 623.05 561.07 624 562.01 624.95 C562.95 625.9 563.9 626.85 564.86 627.78 C565.82 628.71 566.79 629.64 567.76 630.55 C568.73 631.47 569.71 632.38 570.7 633.28 C571.69 634.18 572.69 635.07 573.69 635.95 C574.7 636.83 575.71 637.7 576.73 638.56 C577.75 639.43 578.77 640.28 579.81 641.13 C580.84 641.97 581.88 642.81 582.93 643.64 C583.98 644.46 585.03 645.28 586.09 646.09 C587.15 646.89 588.22 647.69 589.3 648.48 C590.37 649.27 591.45 650.05 592.54 650.82 C593.63 651.58 594.72 652.34 595.82 653.09 C596.92 653.84 598.03 654.58 599.14 655.31 C600.26 656.03 601.38 656.75 602.5 657.46 C603.63 658.17 604.76 658.86 605.89 659.55 C607.03 660.24 608.18 660.91 609.32 661.58 C610.47 662.24 611.63 662.9 612.79 663.54 C613.95 664.18 615.11 664.82 616.28 665.44 C617.45 666.07 618.63 666.68 619.81 667.28 C620.99 667.89 622.18 668.48 623.37 669.06 C624.56 669.65 625.75 670.22 626.96 670.79 C628.16 671.35 629.36 671.9 630.57 672.45 C631.78 672.99 633 673.53 634.22 674.05 C635.43 674.58 636.66 675.1 637.89 675.6 C639.11 676.11 640.35 676.61 641.58 677.1 C642.82 677.59 644.06 678.07 645.3 678.54 C646.54 679.01 647.79 679.47 649.04 679.92 C650.3 680.37 651.55 680.82 652.81 681.25 C654.07 681.69 655.33 682.12 656.59 682.53 C657.86 682.95 659.13 683.36 660.4 683.76 C661.67 684.16 662.95 684.56 664.22 684.94 C665.5 685.33 666.78 685.7 668.07 686.07 C669.35 686.44 670.64 686.8 671.93 687.15 C673.22 687.5 674.51 687.85 675.8 688.19 C677.09 688.52 678.39 688.85 679.69 689.17 C680.99 689.49 682.29 689.81 683.59 690.11 C684.9 690.42 686.2 690.72 687.51 691.01 C688.81 691.3 690.12 691.59 691.43 691.86 C692.74 692.14 694.06 692.41 695.37 692.67 C696.68 692.93 698 693.19 699.31 693.44 C700.63 693.69 701.95 693.93 703.27 694.17 C704.59 694.4 705.91 694.63 707.23 694.85 C708.55 695.07 709.87 695.29 711.19 695.5 C712.52 695.71 713.84 695.91 715.17 696.11 C716.49 696.3 717.81 696.49 719.14 696.68 C720.47 696.86 721.79 697.04 723.12 697.21 C724.44 697.38 725.77 697.55 727.1 697.71 C728.42 697.87 729.75 698.02 731.08 698.17 C732.4 698.32 733.73 698.47 735.05 698.6 C736.38 698.74 737.71 698.87 739.03 699 C740.36 699.13 742.34 699.3 743.01 699.36" fill="none" stroke="#000" stroke-width="2.6" stroke-dasharray="2.5 2.6" stroke-linecap="butt"/>
<path d="M487.2 539.61 C487.45 540.21 488.22 541.99 488.73 543.19 C489.24 544.39 489.73 545.6 490.23 546.81 C490.73 548.03 491.22 549.25 491.71 550.47 C492.2 551.7 492.68 552.93 493.17 554.17 C493.65 555.4 494.13 556.64 494.61 557.89 C495.09 559.13 495.57 560.38 496.05 561.63 C496.53 562.88 497 564.13 497.48 565.39 C497.96 566.64 498.44 567.9 498.93 569.16 C499.41 570.42 499.89 571.68 500.38 572.94 C500.86 574.2 501.35 575.46 501.85 576.72 C502.34 577.98 502.84 579.24 503.34 580.5 C503.84 581.76 504.34 583.02 504.86 584.28 C505.37 585.54 505.89 586.79 506.41 588.04 C506.94 589.29 507.47 590.54 508.01 591.79 C508.54 593.03 509.09 594.27 509.64 595.51 C510.2 596.74 510.76 597.98 511.34 599.2 C511.91 600.42 512.49 601.64 513.08 602.86 C513.68 604.07 514.28 605.27 514.9 606.47 C515.51 607.67 516.14 608.86 516.78 610.04 C517.42 611.22 518.07 612.39 518.73 613.55 C519.4 614.71 520.08 615.86 520.77 617 C521.46 618.14 522.17 619.27 522.89 620.39 C523.61 621.5 524.35 622.61 525.1 623.7 C525.85 624.8 526.62 625.88 527.4 626.95 C528.19 628.01 528.98 629.07 529.8 630.11 C530.61 631.15 531.44 632.18 532.28 633.19 C533.12 634.2 533.98 635.2 534.85 636.18 C535.73 637.17 536.62 638.14 537.52 639.09 C538.42 640.04 539.34 640.98 540.28 641.9 C541.21 642.82 542.16 643.73 543.12 644.62 C544.09 645.51 545.07 646.38 546.06 647.23 C547.06 648.09 548.07 648.92 549.1 649.74 C550.12 650.56 551.16 651.36 552.22 652.15 C553.27 652.93 554.34 653.7 555.42 654.45 C556.51 655.2 557.6 655.94 558.71 656.66 C559.82 657.37 560.94 658.08 562.07 658.77 C563.2 659.46 564.34 660.13 565.49 660.79 C566.64 661.45 567.8 662.09 568.97 662.73 C570.14 663.36 571.31 663.98 572.5 664.59 C573.68 665.19 574.88 665.79 576.08 666.37 C577.27 666.96 578.48 667.53 579.69 668.09 C580.9 668.65 582.12 669.2 583.34 669.74 C584.56 670.28 585.78 670.81 587.01 671.33 C588.24 671.85 589.47 672.36 590.71 672.86 C591.94 673.36 593.19 673.85 594.43 674.33 C595.67 674.81 596.92 675.29 598.17 675.75 C599.42 676.21 600.68 676.67 601.93 677.11 C603.19 677.56 604.45 678 605.72 678.42 C606.98 678.85 608.25 679.27 609.52 679.68 C610.79 680.1 612.06 680.5 613.34 680.89 C614.62 681.29 615.89 681.68 617.18 682.06 C618.46 682.44 619.74 682.81 621.03 683.17 C622.32 683.54 623.61 683.89 624.9 684.24 C626.19 684.59 627.49 684.94 628.79 685.27 C630.08 685.61 631.38 685.93 632.68 686.25 C633.98 686.58 635.29 686.89 636.59 687.2 C637.9 687.51 639.21 687.81 640.52 688.1 C641.83 688.4 643.14 688.69 644.45 688.97 C645.76 689.25 647.08 689.53 648.39 689.8 C649.71 690.07 651.03 690.34 652.35 690.6 C653.67 690.86 654.99 691.11 656.31 691.36 C657.63 691.61 658.95 691.85 660.28 692.09 C661.6 692.33 662.93 692.56 664.25 692.79 C665.58 693.02 666.9 693.24 668.23 693.46 C669.56 693.68 670.89 693.9 672.22 694.11 C673.54 694.32 674.87 694.52 676.2 694.73 C677.53 694.93 678.86 695.13 680.2 695.32 C681.53 695.51 682.86 695.71 684.19 695.89 C685.52 696.08 686.85 696.26 688.18 696.44 C689.51 696.62 690.85 696.8 692.18 696.97 C693.51 697.15 694.84 697.32 696.17 697.48 C697.5 697.65 698.83 697.82 700.16 697.98 C701.49 698.14 702.82 698.3 704.15 698.46 C705.48 698.62 706.81 698.77 708.13 698.92 C709.46 699.08 710.79 699.23 712.11 699.38 C713.44 699.53 714.77 699.67 716.09 699.82 C717.41 699.96 718.74 700.11 720.06 700.25 C721.38 700.39 722.7 700.54 724.02 700.68 C725.34 700.82 726.66 700.96 727.97 701.09 C729.29 701.23 730.6 701.37 731.92 701.51 C733.23 701.64 734.54 701.78 735.85 701.92 C737.16 702.05 738.47 702.19 739.77 702.32 C741.08 702.46 743.03 702.66 743.68 702.73" fill="none" stroke="#000" stroke-width="2.6" stroke-linecap="butt"/>
<line x1="560" y1="592.3" x2="551.4" y2="609.4" stroke="#000" stroke-width="1.6"/>
<ellipse cx="569" cy="578.8" rx="14" ry="14" fill="#fff" stroke="#000" stroke-width="1.15"/>
<text transform="translate(569.45 585) scale(0.638 1)" font-size="20.3" font-weight="bold" font-style="normal" text-anchor="middle" fill="#000" letter-spacing="0.7" stroke="#000" stroke-width="0.2">AL</text>
<text transform="translate(569.75 585) scale(0.638 1)" font-size="20.3" font-weight="bold" font-style="normal" text-anchor="middle" fill="#000" letter-spacing="0.7" stroke="#000" stroke-width="0.2">AL</text>
<line x1="597.2" y1="616.4" x2="579.3" y2="667.9" stroke="#000" stroke-width="1.6"/>
<ellipse cx="605.7" cy="603.7" rx="14" ry="14" fill="#fff" stroke="#000" stroke-width="1.15"/>
<text transform="translate(606.15 610.9) scale(0.655 1)" font-size="18" font-weight="bold" font-style="normal" text-anchor="middle" fill="#000" letter-spacing="0.7" stroke="#000" stroke-width="0.2">FE</text>
<text transform="translate(606.45 610.9) scale(0.655 1)" font-size="18" font-weight="bold" font-style="normal" text-anchor="middle" fill="#000" letter-spacing="0.7" stroke="#000" stroke-width="0.2">FE</text>
<line x1="630.1" y1="648.3" x2="620.1" y2="690.1" stroke="#000" stroke-width="1.6"/>
<ellipse cx="637" cy="634.2" rx="17.7" ry="14" fill="#fff" stroke="#000" stroke-width="1.15"/>
<text transform="translate(637.45 639.8) scale(0.687 1)" font-size="15.3" font-weight="bold" font-style="normal" text-anchor="middle" fill="#000" letter-spacing="0.7" stroke="#000" stroke-width="0.2">INOX</text>
<text transform="translate(637.75 639.8) scale(0.687 1)" font-size="15.3" font-weight="bold" font-style="normal" text-anchor="middle" fill="#000" letter-spacing="0.7" stroke="#000" stroke-width="0.2">INOX</text>
<line x1="262.5" y1="894.5" x2="262.5" y2="910.3" stroke="#000" stroke-width="1.0" stroke-dasharray="3.4 2.4"/>
<line x1="262.5" y1="910.3" x2="262.5" y2="1105.5" stroke="#000" stroke-width="1.0"/>
<line x1="273.5" y1="894.5" x2="273.5" y2="910.3" stroke="#000" stroke-width="1.0" stroke-dasharray="3.4 2.4"/>
<line x1="273.5" y1="910.3" x2="273.5" y2="1105.5" stroke="#000" stroke-width="1.0"/>
<line x1="285.5" y1="894.5" x2="285.5" y2="1105.5" stroke="#000" stroke-width="1.0"/>
<line x1="296.5" y1="894.5" x2="296.5" y2="1105.5" stroke="#000" stroke-width="1.0"/>
<line x1="308.5" y1="894.5" x2="308.5" y2="1105.5" stroke="#000" stroke-width="1.0"/>
<line x1="319.5" y1="894.5" x2="319.5" y2="1105.5" stroke="#000" stroke-width="1.0"/>
<line x1="331.5" y1="894.5" x2="331.5" y2="1105.5" stroke="#000" stroke-width="1.0"/>
<line x1="342.5" y1="894.5" x2="342.5" y2="1105.5" stroke="#000" stroke-width="1.0"/>
<line x1="354.5" y1="894.5" x2="354.5" y2="1105.5" stroke="#000" stroke-width="1.0"/>
<line x1="365.5" y1="894.5" x2="365.5" y2="1105.5" stroke="#000" stroke-width="1.0"/>
<line x1="377.5" y1="894.5" x2="377.5" y2="1105.5" stroke="#000" stroke-width="1.0"/>
<line x1="388.5" y1="894.5" x2="388.5" y2="1105.5" stroke="#000" stroke-width="1.0"/>
<line x1="400.5" y1="894.5" x2="400.5" y2="1105.5" stroke="#000" stroke-width="1.0"/>
<line x1="411.5" y1="894.5" x2="411.5" y2="1105.5" stroke="#000" stroke-width="1.0"/>
<line x1="423.5" y1="894.5" x2="423.5" y2="1105.5" stroke="#000" stroke-width="1.0"/>
<line x1="434.5" y1="894.5" x2="434.5" y2="1105.5" stroke="#000" stroke-width="1.0"/>
<line x1="446.5" y1="894.5" x2="446.5" y2="1105.5" stroke="#000" stroke-width="1.0"/>
<line x1="457.5" y1="894.5" x2="457.5" y2="1105.5" stroke="#000" stroke-width="1.0"/>
<line x1="468.5" y1="894.5" x2="468.5" y2="1105.5" stroke="#000" stroke-width="1.0"/>
<line x1="480.5" y1="894.5" x2="480.5" y2="1105.5" stroke="#000" stroke-width="1.0"/>
<line x1="491.5" y1="894.5" x2="491.5" y2="1105.5" stroke="#000" stroke-width="1.0"/>
<line x1="503.5" y1="894.5" x2="503.5" y2="1105.5" stroke="#000" stroke-width="1.0"/>
<line x1="515.5" y1="894.5" x2="515.5" y2="1105.5" stroke="#000" stroke-width="1.0"/>
<line x1="526.5" y1="894.5" x2="526.5" y2="1105.5" stroke="#000" stroke-width="1.0"/>
<line x1="537.5" y1="894.5" x2="537.5" y2="1105.5" stroke="#000" stroke-width="1.0"/>
<line x1="550.5" y1="894.5" x2="550.5" y2="1105.5" stroke="#000" stroke-width="1.0"/>
<line x1="560.5" y1="894.5" x2="560.5" y2="1105.5" stroke="#000" stroke-width="1.0"/>
<line x1="572.5" y1="894.5" x2="572.5" y2="1105.5" stroke="#000" stroke-width="0.8" stroke-dasharray="5 2 1.5 2"/>
<line x1="250.5" y1="894.5" x2="572.5" y2="894.5" stroke="#000" stroke-width="1.0" stroke-dasharray="4.4 2.2"/>
<line x1="250.5" y1="910.5" x2="572.5" y2="910.5" stroke="#000" stroke-width="1.0" stroke-dasharray="4.4 2.2"/>
<line x1="250.5" y1="926.5" x2="572.5" y2="926.5" stroke="#000" stroke-width="1.0" stroke-dasharray="4.4 2.2"/>
<line x1="250.5" y1="943.5" x2="572.5" y2="943.5" stroke="#000" stroke-width="1.0" stroke-dasharray="4.4 2.2"/>
<line x1="250.5" y1="960.5" x2="572.5" y2="960.5" stroke="#000" stroke-width="1.0" stroke-dasharray="4.4 2.2"/>
<line x1="250.5" y1="975.5" x2="572.5" y2="975.5" stroke="#000" stroke-width="1.0" stroke-dasharray="4.4 2.2"/>
<line x1="250.5" y1="992.5" x2="572.5" y2="992.5" stroke="#000" stroke-width="1.0" stroke-dasharray="4.4 2.2"/>
<line x1="250.5" y1="1008.5" x2="572.5" y2="1008.5" stroke="#000" stroke-width="1.0" stroke-dasharray="4.4 2.2"/>
<line x1="250.5" y1="1024.5" x2="572.5" y2="1024.5" stroke="#000" stroke-width="1.0" stroke-dasharray="4.4 2.2"/>
<line x1="250.5" y1="1041.5" x2="572.5" y2="1041.5" stroke="#000" stroke-width="1.0" stroke-dasharray="4.4 2.2"/>
<line x1="250.5" y1="1057.5" x2="572.5" y2="1057.5" stroke="#000" stroke-width="1.0" stroke-dasharray="4.4 2.2"/>
<line x1="250.5" y1="1073.5" x2="572.5" y2="1073.5" stroke="#000" stroke-width="1.0" stroke-dasharray="4.4 2.2"/>
<line x1="250.5" y1="1089.5" x2="572.5" y2="1089.5" stroke="#000" stroke-width="1.0" stroke-dasharray="4.4 2.2"/>
<path d="M250.5 894.5 V887.5 H577.5 V1105.5" fill="none" stroke="#000" stroke-width="0.9"/>
<line x1="250.5" y1="894.5" x2="250.5" y2="1105.5" stroke="#000" stroke-width="0.9" stroke-dasharray="5 1.5"/>
<line x1="250.5" y1="1105.5" x2="577.5" y2="1105.5" stroke="#000" stroke-width="1.0" stroke-dasharray="6 1.2"/>
<line x1="264.5" y1="887.5" x2="264.5" y2="894.5" stroke="#000" stroke-width="0.9"/>
<line x1="301.5" y1="887.5" x2="301.5" y2="894.5" stroke="#000" stroke-width="0.9"/>
<line x1="337.5" y1="887.5" x2="337.5" y2="894.5" stroke="#000" stroke-width="0.9"/>
<line x1="374.5" y1="887.5" x2="374.5" y2="894.5" stroke="#000" stroke-width="0.9"/>
<line x1="410.5" y1="887.5" x2="410.5" y2="894.5" stroke="#000" stroke-width="0.9"/>
<line x1="447.5" y1="887.5" x2="447.5" y2="894.5" stroke="#000" stroke-width="0.9"/>
<line x1="484.5" y1="887.5" x2="484.5" y2="894.5" stroke="#000" stroke-width="0.9"/>
<line x1="520.5" y1="887.5" x2="520.5" y2="894.5" stroke="#000" stroke-width="0.9"/>
<line x1="556.5" y1="887.5" x2="556.5" y2="894.5" stroke="#000" stroke-width="0.9"/>
<line x1="572.5" y1="1085.5" x2="577.5" y2="1085.5" stroke="#000" stroke-width="0.9"/>
<text transform="translate(582.8 1088.7) scale(1.12 1)" font-size="12" font-weight="bold" font-style="normal" text-anchor="start" fill="#000" letter-spacing="0.7" stroke="#000" stroke-width="0.25">20</text>
<line x1="572.5" y1="1065.5" x2="577.5" y2="1065.5" stroke="#000" stroke-width="0.9"/>
<text transform="translate(582.8 1067.2) scale(1.12 1)" font-size="12" font-weight="bold" font-style="normal" text-anchor="start" fill="#000" letter-spacing="0.7" stroke="#000" stroke-width="0.25">40</text>
<line x1="572.5" y1="1044.5" x2="577.5" y2="1044.5" stroke="#000" stroke-width="0.9"/>
<text transform="translate(582.8 1045.4) scale(1.12 1)" font-size="12" font-weight="bold" font-style="normal" text-anchor="start" fill="#000" letter-spacing="0.7" stroke="#000" stroke-width="0.25">60</text>
<line x1="572.5" y1="1024.5" x2="577.5" y2="1024.5" stroke="#000" stroke-width="0.9"/>
<text transform="translate(582.8 1027.9) scale(1.12 1)" font-size="12" font-weight="bold" font-style="normal" text-anchor="start" fill="#000" letter-spacing="0.7" stroke="#000" stroke-width="0.25">80</text>
<line x1="572.5" y1="1003.5" x2="577.5" y2="1003.5" stroke="#000" stroke-width="0.9"/>
<text transform="translate(582.8 1007.5) scale(1.12 1)" font-size="12" font-weight="bold" font-style="normal" text-anchor="start" fill="#000" letter-spacing="0.7" stroke="#000" stroke-width="0.25">100</text>
<line x1="572.5" y1="983.5" x2="577.5" y2="983.5" stroke="#000" stroke-width="0.9"/>
<text transform="translate(582.8 987) scale(1.12 1)" font-size="12" font-weight="bold" font-style="normal" text-anchor="start" fill="#000" letter-spacing="0.7" stroke="#000" stroke-width="0.25">120</text>
<line x1="572.5" y1="962.5" x2="577.5" y2="962.5" stroke="#000" stroke-width="0.9"/>
<text transform="translate(582.8 966.6) scale(1.12 1)" font-size="12" font-weight="bold" font-style="normal" text-anchor="start" fill="#000" letter-spacing="0.7" stroke="#000" stroke-width="0.25">140</text>
<line x1="572.5" y1="942.5" x2="577.5" y2="942.5" stroke="#000" stroke-width="0.9"/>
<text transform="translate(582.8 946.6) scale(1.12 1)" font-size="12" font-weight="bold" font-style="normal" text-anchor="start" fill="#000" letter-spacing="0.7" stroke="#000" stroke-width="0.25">160</text>
<line x1="572.5" y1="921.5" x2="577.5" y2="921.5" stroke="#000" stroke-width="0.9"/>
<text transform="translate(582.8 925.1) scale(1.12 1)" font-size="12" font-weight="bold" font-style="normal" text-anchor="start" fill="#000" letter-spacing="0.7" stroke="#000" stroke-width="0.25">180</text>
<line x1="572.5" y1="901.5" x2="577.5" y2="901.5" stroke="#000" stroke-width="0.9"/>
<text transform="translate(582.8 904.1) scale(1.12 1)" font-size="12" font-weight="bold" font-style="normal" text-anchor="start" fill="#000" letter-spacing="0.7" stroke="#000" stroke-width="0.25">200</text>
<text transform="translate(224.2 914.3) scale(1.08 1)" font-size="11.6" font-weight="bold" font-style="normal" text-anchor="start" fill="#000" stroke="#000" stroke-width="0.25">4.8</text>
<text transform="translate(224.2 930.54) scale(1.08 1)" font-size="11.6" font-weight="bold" font-style="normal" text-anchor="start" fill="#000" stroke="#000" stroke-width="0.25">4.4</text>
<text transform="translate(224.2 946.79) scale(1.08 1)" font-size="11.6" font-weight="bold" font-style="normal" text-anchor="start" fill="#000" stroke="#000" stroke-width="0.25">4.0</text>
<text transform="translate(224.2 963.03) scale(1.08 1)" font-size="11.6" font-weight="bold" font-style="normal" text-anchor="start" fill="#000" stroke="#000" stroke-width="0.25">3.6</text>
<text transform="translate(224.2 979.28) scale(1.08 1)" font-size="11.6" font-weight="bold" font-style="normal" text-anchor="start" fill="#000" stroke="#000" stroke-width="0.25">3.2</text>
<text transform="translate(224.2 995.52) scale(1.08 1)" font-size="11.6" font-weight="bold" font-style="normal" text-anchor="start" fill="#000" stroke="#000" stroke-width="0.25">2.8</text>
<text transform="translate(224.2 1011.77) scale(1.08 1)" font-size="11.6" font-weight="bold" font-style="normal" text-anchor="start" fill="#000" stroke="#000" stroke-width="0.25">2.4</text>
<text transform="translate(224.2 1028.01) scale(1.08 1)" font-size="11.6" font-weight="bold" font-style="normal" text-anchor="start" fill="#000" stroke="#000" stroke-width="0.25">2.0</text>
<text transform="translate(224.2 1044.26) scale(1.08 1)" font-size="11.6" font-weight="bold" font-style="normal" text-anchor="start" fill="#000" stroke="#000" stroke-width="0.25">1.6</text>
<text transform="translate(224.2 1060.5) scale(1.08 1)" font-size="11.6" font-weight="bold" font-style="normal" text-anchor="start" fill="#000" stroke="#000" stroke-width="0.25">1.2</text>
<text transform="translate(224.2 1076.75) scale(1.08 1)" font-size="11.6" font-weight="bold" font-style="normal" text-anchor="start" fill="#000" stroke="#000" stroke-width="0.25">0.8</text>
<text transform="translate(224.2 1092.99) scale(1.08 1)" font-size="11.6" font-weight="bold" font-style="normal" text-anchor="start" fill="#000" stroke="#000" stroke-width="0.25">0.4</text>
<text transform="translate(262.6 1121.5) scale(0.8 1)" font-size="11.2" font-weight="bold" font-style="normal" text-anchor="middle" fill="#000" stroke="#000" stroke-width="0.25">3</text>
<text transform="translate(273.6 1121.5) scale(0.8 1)" font-size="11.2" font-weight="bold" font-style="normal" text-anchor="middle" fill="#000" stroke="#000" stroke-width="0.25">4</text>
<text transform="translate(285.6 1121.5) scale(0.8 1)" font-size="11.2" font-weight="bold" font-style="normal" text-anchor="middle" fill="#000" stroke="#000" stroke-width="0.25">5</text>
<text transform="translate(296.8 1121.5) scale(0.8 1)" font-size="11.2" font-weight="bold" font-style="normal" text-anchor="middle" fill="#000" stroke="#000" stroke-width="0.25">6</text>
<text transform="translate(308.6 1121.5) scale(0.8 1)" font-size="11.2" font-weight="bold" font-style="normal" text-anchor="middle" fill="#000" stroke="#000" stroke-width="0.25">7</text>
<text transform="translate(319.9 1121.5) scale(0.8 1)" font-size="11.2" font-weight="bold" font-style="normal" text-anchor="middle" fill="#000" stroke="#000" stroke-width="0.25">8</text>
<text transform="translate(331.5 1121.5) scale(0.8 1)" font-size="11.2" font-weight="bold" font-style="normal" text-anchor="middle" fill="#000" stroke="#000" stroke-width="0.25">9</text>
<text transform="translate(342.5 1121.5) scale(0.8 1)" font-size="11.2" font-weight="bold" font-style="normal" text-anchor="middle" fill="#000" stroke="#000" stroke-width="0.25">10</text>
<text transform="translate(354.3 1121.5) scale(0.8 1)" font-size="11.2" font-weight="bold" font-style="normal" text-anchor="middle" fill="#000" stroke="#000" stroke-width="0.25">11</text>
<text transform="translate(365.8 1121.5) scale(0.8 1)" font-size="11.2" font-weight="bold" font-style="normal" text-anchor="middle" fill="#000" stroke="#000" stroke-width="0.25">12</text>
<text transform="translate(377.4 1121.5) scale(0.8 1)" font-size="11.2" font-weight="bold" font-style="normal" text-anchor="middle" fill="#000" stroke="#000" stroke-width="0.25">13</text>
<text transform="translate(388.9 1121.5) scale(0.8 1)" font-size="11.2" font-weight="bold" font-style="normal" text-anchor="middle" fill="#000" stroke="#000" stroke-width="0.25">14</text>
<text transform="translate(400.4 1121.5) scale(0.8 1)" font-size="11.2" font-weight="bold" font-style="normal" text-anchor="middle" fill="#000" stroke="#000" stroke-width="0.25">15</text>
<text transform="translate(411.5 1121.5) scale(0.8 1)" font-size="11.2" font-weight="bold" font-style="normal" text-anchor="middle" fill="#000" stroke="#000" stroke-width="0.25">16</text>
<text transform="translate(423.6 1121.5) scale(0.8 1)" font-size="11.2" font-weight="bold" font-style="normal" text-anchor="middle" fill="#000" stroke="#000" stroke-width="0.25">17</text>
<text transform="translate(434.9 1121.5) scale(0.8 1)" font-size="11.2" font-weight="bold" font-style="normal" text-anchor="middle" fill="#000" stroke="#000" stroke-width="0.25">18</text>
<text transform="translate(446.3 1121.5) scale(0.8 1)" font-size="11.2" font-weight="bold" font-style="normal" text-anchor="middle" fill="#000" stroke="#000" stroke-width="0.25">19</text>
<text transform="translate(457.6 1121.5) scale(0.8 1)" font-size="11.2" font-weight="bold" font-style="normal" text-anchor="middle" fill="#000" stroke="#000" stroke-width="0.25">20</text>
<text transform="translate(468.9 1121.5) scale(0.8 1)" font-size="11.2" font-weight="bold" font-style="normal" text-anchor="middle" fill="#000" stroke="#000" stroke-width="0.25">21</text>
<text transform="translate(480.7 1121.5) scale(0.8 1)" font-size="11.2" font-weight="bold" font-style="normal" text-anchor="middle" fill="#000" stroke="#000" stroke-width="0.25">22</text>
<text transform="translate(491.9 1121.5) scale(0.8 1)" font-size="11.2" font-weight="bold" font-style="normal" text-anchor="middle" fill="#000" stroke="#000" stroke-width="0.25">23</text>
<text transform="translate(503.6 1121.5) scale(0.8 1)" font-size="11.2" font-weight="bold" font-style="normal" text-anchor="middle" fill="#000" stroke="#000" stroke-width="0.25">24</text>
<text transform="translate(515.1 1121.5) scale(0.8 1)" font-size="11.2" font-weight="bold" font-style="normal" text-anchor="middle" fill="#000" stroke="#000" stroke-width="0.25">25</text>
<text transform="translate(526.5 1121.5) scale(0.8 1)" font-size="11.2" font-weight="bold" font-style="normal" text-anchor="middle" fill="#000" stroke="#000" stroke-width="0.25">26</text>
<text transform="translate(537.8 1121.5) scale(0.8 1)" font-size="11.2" font-weight="bold" font-style="normal" text-anchor="middle" fill="#000" stroke="#000" stroke-width="0.25">27</text>
<text transform="translate(550.1 1121.5) scale(0.8 1)" font-size="11.2" font-weight="bold" font-style="normal" text-anchor="middle" fill="#000" stroke="#000" stroke-width="0.25">28</text>
<text transform="translate(560.8 1121.5) scale(0.8 1)" font-size="11.2" font-weight="bold" font-style="normal" text-anchor="middle" fill="#000" stroke="#000" stroke-width="0.25">29</text>
<text transform="translate(572.2 1121.5) scale(0.8 1)" font-size="11.2" font-weight="bold" font-style="normal" text-anchor="middle" fill="#000" stroke="#000" stroke-width="0.25">30</text>
<text transform="translate(246.2 1120.6) scale(0.95 1)" font-size="11" font-weight="bold" font-style="italic" text-anchor="middle" fill="#000" stroke="#000" stroke-width="0.25">mm</text>
<text transform="translate(265.3 879.6) scale(1.15 1)" font-size="11.6" font-weight="bold" font-style="normal" text-anchor="middle" fill="#000" letter-spacing="0.25" stroke="#000" stroke-width="0.25">1/8</text>
<text transform="translate(303 879.6) scale(1.15 1)" font-size="11.6" font-weight="bold" font-style="normal" text-anchor="middle" fill="#000" letter-spacing="0.25" stroke="#000" stroke-width="0.25">1/4</text>
<text transform="translate(337.5 879.6) scale(1.15 1)" font-size="11.6" font-weight="bold" font-style="normal" text-anchor="middle" fill="#000" letter-spacing="0.25" stroke="#000" stroke-width="0.25">3/8</text>
<text transform="translate(373.8 879.6) scale(1.15 1)" font-size="11.6" font-weight="bold" font-style="normal" text-anchor="middle" fill="#000" letter-spacing="0.25" stroke="#000" stroke-width="0.25">1/2</text>
<text transform="translate(412.6 879.6) scale(1.15 1)" font-size="11.6" font-weight="bold" font-style="normal" text-anchor="middle" fill="#000" letter-spacing="0.25" stroke="#000" stroke-width="0.25">5/8</text>
<text transform="translate(448.4 879.6) scale(1.15 1)" font-size="11.6" font-weight="bold" font-style="normal" text-anchor="middle" fill="#000" letter-spacing="0.25" stroke="#000" stroke-width="0.25">3/4</text>
<text transform="translate(484.5 879.6) scale(1.15 1)" font-size="11.6" font-weight="bold" font-style="normal" text-anchor="middle" fill="#000" letter-spacing="0.25" stroke="#000" stroke-width="0.25">7/8</text>
<text transform="translate(519.4 879.6) scale(1.15 1)" font-size="11.6" font-weight="bold" font-style="normal" text-anchor="middle" fill="#000" letter-spacing="0.25" stroke="#000" stroke-width="0.25">1</text>
<text transform="translate(559.1 879.6) scale(1.15 1)" font-size="11.6" font-weight="bold" font-style="normal" text-anchor="middle" fill="#000" letter-spacing="0.7" stroke="#000" stroke-width="0.25">1-1/8</text>
<text transform="translate(598.4 878.6) scale(0.88 1)" font-size="11" font-weight="bold" font-style="italic" text-anchor="middle" fill="#000" stroke="#000" stroke-width="0.25">inches</text>
<text transform="translate(237 881.5) rotate(-90) scale(0.86 1)" font-size="10.8" font-weight="bold" font-style="italic" text-anchor="middle" fill="#000" stroke="#000" stroke-width="0.25">m/min</text>
<text transform="translate(595 1110.8) rotate(-90) scale(0.75 1)" font-size="10.8" font-weight="bold" font-style="italic" text-anchor="middle" fill="#000" stroke="#000" stroke-width="0.25">inch/min</text>
<path d="M275.11 979.3 C275.32 979.92 275.94 981.78 276.36 983.04 C276.78 984.29 277.2 985.55 277.62 986.82 C278.05 988.08 278.48 989.35 278.91 990.62 C279.35 991.89 279.79 993.17 280.24 994.45 C280.68 995.72 281.14 997 281.6 998.28 C282.06 999.56 282.53 1000.84 283.01 1002.12 C283.49 1003.39 283.97 1004.67 284.47 1005.94 C284.96 1007.22 285.47 1008.49 285.99 1009.75 C286.5 1011.02 287.03 1012.28 287.57 1013.54 C288.11 1014.79 288.66 1016.04 289.22 1017.29 C289.79 1018.53 290.36 1019.76 290.95 1020.99 C291.54 1022.22 292.15 1023.44 292.77 1024.64 C293.39 1025.85 294.02 1027.05 294.67 1028.23 C295.32 1029.42 295.99 1030.59 296.67 1031.75 C297.36 1032.91 298.06 1034.06 298.77 1035.19 C299.49 1036.32 300.23 1037.44 300.99 1038.54 C301.74 1039.64 302.52 1040.73 303.31 1041.8 C304.1 1042.87 304.91 1043.92 305.74 1044.96 C306.56 1046 307.41 1047.02 308.27 1048.02 C309.13 1049.03 310.01 1050.02 310.91 1050.99 C311.8 1051.96 312.71 1052.92 313.64 1053.86 C314.57 1054.8 315.51 1055.72 316.47 1056.62 C317.43 1057.53 318.41 1058.41 319.4 1059.28 C320.39 1060.15 321.39 1061.01 322.42 1061.84 C323.44 1062.67 324.47 1063.49 325.52 1064.29 C326.57 1065.09 327.63 1065.87 328.71 1066.63 C329.79 1067.39 330.88 1068.14 331.98 1068.86 C333.09 1069.59 334.2 1070.29 335.34 1070.98 C336.47 1071.67 337.61 1072.34 338.76 1072.99 C339.92 1073.64 341.09 1074.27 342.27 1074.88 C343.45 1075.49 344.64 1076.09 345.84 1076.66 C347.05 1077.24 348.26 1077.79 349.48 1078.33 C350.71 1078.87 351.94 1079.39 353.18 1079.9 C354.43 1080.4 355.68 1080.89 356.94 1081.37 C358.2 1081.84 359.47 1082.3 360.74 1082.74 C362.02 1083.19 363.3 1083.62 364.59 1084.03 C365.88 1084.45 367.18 1084.85 368.48 1085.24 C369.78 1085.63 371.09 1086.01 372.4 1086.37 C373.71 1086.74 375.03 1087.09 376.35 1087.43 C377.67 1087.77 379 1088.1 380.32 1088.42 C381.65 1088.74 382.98 1089.05 384.31 1089.36 C385.65 1089.66 386.98 1089.95 388.32 1090.23 C389.65 1090.52 390.99 1090.79 392.33 1091.06 C393.66 1091.33 395 1091.59 396.34 1091.84 C397.67 1092.09 399.01 1092.34 400.35 1092.58 C401.68 1092.82 403.02 1093.05 404.35 1093.28 C405.69 1093.51 407.02 1093.73 408.36 1093.94 C409.69 1094.15 411.03 1094.36 412.36 1094.56 C413.69 1094.76 415.02 1094.96 416.36 1095.14 C417.69 1095.33 419.02 1095.51 420.35 1095.69 C421.68 1095.86 423.01 1096.03 424.34 1096.19 C425.67 1096.36 427 1096.51 428.33 1096.66 C429.66 1096.81 430.99 1096.96 432.32 1097.09 C433.65 1097.23 434.97 1097.36 436.3 1097.49 C437.63 1097.61 438.95 1097.73 440.28 1097.85 C441.6 1097.96 442.93 1098.07 444.25 1098.17 C445.58 1098.27 446.9 1098.37 448.22 1098.46 C449.55 1098.55 451.53 1098.67 452.19 1098.71" fill="none" stroke="#555" stroke-width="2.8" stroke-dasharray="14.5 9" stroke-dashoffset="19.28" stroke-linecap="butt"/>
<path d="M273.6 978.5 C273.78 979.15 274.3 981.09 274.68 982.38 C275.06 983.67 275.46 984.95 275.87 986.22 C276.29 987.49 276.72 988.76 277.17 990.02 C277.61 991.28 278.08 992.54 278.55 993.79 C279.03 995.04 279.52 996.28 280.02 997.53 C280.52 998.77 281.03 1000 281.55 1001.24 C282.08 1002.47 282.61 1003.7 283.15 1004.92 C283.69 1006.15 284.23 1007.37 284.79 1008.59 C285.34 1009.81 285.9 1011.03 286.46 1012.25 C287.02 1013.46 287.59 1014.68 288.16 1015.89 C288.73 1017.1 289.3 1018.32 289.88 1019.53 C290.45 1020.74 291.02 1021.95 291.59 1023.16 C292.16 1024.38 293.02 1026.19 293.3 1026.8" fill="none" stroke="#555" stroke-width="2.8" stroke-linecap="butt"/>
<path d="M274.43 910.78 C274.42 911.46 274.34 913.5 274.33 914.85 C274.31 916.21 274.31 917.57 274.33 918.93 C274.35 920.29 274.38 921.65 274.44 923.01 C274.49 924.37 274.56 925.73 274.65 927.09 C274.74 928.44 274.84 929.8 274.97 931.15 C275.09 932.51 275.23 933.86 275.39 935.21 C275.55 936.56 275.73 937.91 275.92 939.26 C276.11 940.6 276.32 941.95 276.55 943.29 C276.77 944.63 277.02 945.96 277.28 947.3 C277.54 948.63 277.82 949.96 278.11 951.28 C278.41 952.61 278.72 953.93 279.05 955.25 C279.38 956.56 279.72 957.88 280.08 959.18 C280.44 960.49 280.82 961.79 281.22 963.09 C281.61 964.38 282.02 965.67 282.45 966.95 C282.88 968.24 283.32 969.52 283.78 970.79 C284.24 972.06 284.72 973.32 285.21 974.58 C285.71 975.83 286.22 977.08 286.74 978.32 C287.27 979.56 287.81 980.8 288.36 982.02 C288.92 983.25 289.5 984.46 290.08 985.67 C290.67 986.88 291.28 988.08 291.9 989.27 C292.52 990.46 293.16 991.64 293.81 992.81 C294.46 993.98 295.13 995.14 295.81 996.29 C296.49 997.44 297.19 998.58 297.91 999.71 C298.62 1000.84 299.35 1001.96 300.09 1003.06 C300.84 1004.17 301.6 1005.26 302.37 1006.35 C303.15 1007.43 303.94 1008.5 304.74 1009.56 C305.54 1010.62 306.36 1011.67 307.2 1012.71 C308.03 1013.75 308.88 1014.77 309.74 1015.79 C310.59 1016.8 311.47 1017.81 312.36 1018.8 C313.24 1019.79 314.14 1020.77 315.05 1021.74 C315.97 1022.71 316.89 1023.67 317.83 1024.61 C318.76 1025.56 319.71 1026.49 320.68 1027.42 C321.64 1028.34 322.61 1029.25 323.59 1030.15 C324.58 1031.05 325.57 1031.94 326.58 1032.82 C327.58 1033.7 328.6 1034.56 329.63 1035.42 C330.66 1036.27 331.69 1037.11 332.74 1037.94 C333.79 1038.78 334.85 1039.6 335.91 1040.41 C336.98 1041.21 338.06 1042.01 339.14 1042.8 C340.23 1043.58 341.32 1044.36 342.43 1045.12 C343.53 1045.88 344.64 1046.64 345.76 1047.38 C346.88 1048.12 348.01 1048.84 349.15 1049.56 C350.28 1050.28 351.43 1050.98 352.58 1051.68 C353.73 1052.37 354.89 1053.06 356.05 1053.73 C357.22 1054.4 358.39 1055.06 359.57 1055.71 C360.75 1056.36 361.93 1057 363.12 1057.62 C364.31 1058.25 365.51 1058.86 366.71 1059.46 C367.91 1060.07 369.12 1060.66 370.33 1061.24 C371.54 1061.82 372.76 1062.39 373.98 1062.95 C375.2 1063.5 376.43 1064.05 377.66 1064.59 C378.89 1065.12 380.13 1065.64 381.37 1066.16 C382.61 1066.67 383.85 1067.17 385.1 1067.66 C386.34 1068.16 387.6 1068.64 388.85 1069.11 C390.11 1069.58 391.37 1070.04 392.63 1070.49 C393.89 1070.94 395.16 1071.38 396.43 1071.81 C397.7 1072.24 398.98 1072.67 400.25 1073.08 C401.53 1073.49 402.81 1073.89 404.1 1074.29 C405.38 1074.68 406.67 1075.07 407.96 1075.44 C409.25 1075.82 410.54 1076.19 411.84 1076.55 C413.14 1076.91 414.44 1077.26 415.74 1077.6 C417.04 1077.95 418.35 1078.28 419.66 1078.61 C420.96 1078.94 422.27 1079.26 423.59 1079.57 C424.9 1079.88 426.22 1080.19 427.53 1080.48 C428.85 1080.78 430.17 1081.07 431.49 1081.36 C432.82 1081.64 434.14 1081.92 435.47 1082.19 C436.8 1082.46 438.12 1082.72 439.45 1082.98 C440.78 1083.24 442.12 1083.49 443.45 1083.74 C444.79 1083.98 446.12 1084.22 447.46 1084.46 C448.8 1084.69 450.13 1084.92 451.48 1085.14 C452.82 1085.37 454.16 1085.59 455.5 1085.8 C456.84 1086.01 458.19 1086.22 459.53 1086.43 C460.88 1086.63 462.22 1086.83 463.57 1087.03 C464.92 1087.22 466.27 1087.41 467.61 1087.6 C468.96 1087.79 470.31 1087.97 471.66 1088.15 C473.01 1088.33 474.36 1088.5 475.72 1088.67 C477.07 1088.85 478.42 1089.02 479.77 1089.18 C481.12 1089.35 482.47 1089.51 483.83 1089.67 C485.18 1089.83 486.53 1089.99 487.88 1090.14 C489.24 1090.3 490.59 1090.45 491.94 1090.6 C493.29 1090.75 494.65 1090.9 496 1091.04 C497.35 1091.19 498.7 1091.33 500.05 1091.48 C501.4 1091.62 502.75 1091.76 504.1 1091.9 C505.45 1092.04 506.8 1092.18 508.15 1092.32 C509.5 1092.46 510.85 1092.59 512.19 1092.73 C513.54 1092.87 514.88 1093 516.23 1093.14 C517.57 1093.27 518.92 1093.41 520.26 1093.54 C521.6 1093.68 522.94 1093.81 524.28 1093.95 C525.62 1094.09 526.96 1094.22 528.29 1094.36 C529.63 1094.5 530.96 1094.63 532.3 1094.77 C533.63 1094.91 534.96 1095.05 536.29 1095.19 C537.62 1095.33 538.95 1095.47 540.27 1095.62 C541.6 1095.76 542.92 1095.91 544.24 1096.05 C545.56 1096.2 546.88 1096.35 548.2 1096.5 C549.51 1096.65 550.83 1096.8 552.14 1096.96 C553.45 1097.12 554.76 1097.27 556.06 1097.44 C557.37 1097.6 559.32 1097.85 559.97 1097.93" fill="none" stroke="#000" stroke-width="2.7" stroke-dasharray="2.6 2.9" stroke-linecap="butt"/>
<path d="M273.93 975.67 C274.14 976.33 274.74 978.31 275.17 979.61 C275.6 980.92 276.05 982.22 276.51 983.51 C276.97 984.8 277.45 986.08 277.94 987.35 C278.44 988.63 278.95 989.89 279.48 991.15 C280 992.4 280.55 993.65 281.1 994.88 C281.66 996.12 282.24 997.35 282.83 998.57 C283.42 999.78 284.02 1000.99 284.64 1002.19 C285.27 1003.39 285.9 1004.57 286.56 1005.75 C287.21 1006.93 287.87 1008.09 288.56 1009.25 C289.24 1010.4 289.94 1011.55 290.65 1012.68 C291.36 1013.81 292.09 1014.93 292.83 1016.04 C293.58 1017.15 294.34 1018.25 295.11 1019.34 C295.88 1020.42 296.67 1021.5 297.47 1022.56 C298.27 1023.62 299.09 1024.67 299.92 1025.7 C300.75 1026.74 301.6 1027.76 302.46 1028.77 C303.32 1029.78 304.19 1030.77 305.08 1031.75 C305.97 1032.74 306.87 1033.7 307.79 1034.66 C308.7 1035.61 309.63 1036.55 310.58 1037.48 C311.52 1038.4 312.48 1039.31 313.45 1040.21 C314.43 1041.11 315.41 1041.99 316.41 1042.85 C317.41 1043.72 318.42 1044.57 319.45 1045.41 C320.47 1046.25 321.51 1047.07 322.56 1047.88 C323.61 1048.69 324.67 1049.49 325.74 1050.27 C326.81 1051.05 327.9 1051.82 328.99 1052.57 C330.08 1053.32 331.19 1054.07 332.3 1054.79 C333.42 1055.52 334.54 1056.23 335.68 1056.94 C336.81 1057.64 337.96 1058.32 339.11 1059 C340.26 1059.68 341.42 1060.34 342.59 1060.99 C343.76 1061.64 344.94 1062.28 346.13 1062.9 C347.31 1063.53 348.51 1064.14 349.71 1064.74 C350.91 1065.35 352.11 1065.94 353.33 1066.51 C354.54 1067.09 355.76 1067.66 356.99 1068.21 C358.21 1068.77 359.45 1069.31 360.68 1069.85 C361.92 1070.38 363.16 1070.9 364.41 1071.41 C365.66 1071.92 366.91 1072.42 368.16 1072.91 C369.42 1073.4 370.68 1073.88 371.94 1074.35 C373.2 1074.82 374.47 1075.28 375.74 1075.73 C377.01 1076.18 378.28 1076.62 379.56 1077.04 C380.83 1077.47 382.11 1077.89 383.39 1078.3 C384.67 1078.71 385.95 1079.11 387.24 1079.51 C388.52 1079.9 389.81 1080.28 391.1 1080.65 C392.39 1081.03 393.69 1081.39 394.98 1081.75 C396.28 1082.11 397.58 1082.45 398.88 1082.79 C400.18 1083.13 401.48 1083.47 402.78 1083.79 C404.09 1084.11 405.4 1084.43 406.7 1084.74 C408.01 1085.05 409.32 1085.35 410.63 1085.64 C411.95 1085.94 413.26 1086.23 414.58 1086.51 C415.89 1086.79 417.21 1087.06 418.53 1087.33 C419.85 1087.59 421.17 1087.85 422.49 1088.11 C423.81 1088.36 425.13 1088.61 426.46 1088.85 C427.78 1089.09 429.11 1089.33 430.44 1089.56 C431.76 1089.79 433.09 1090.01 434.42 1090.23 C435.75 1090.45 437.08 1090.66 438.41 1090.87 C439.74 1091.08 441.07 1091.28 442.41 1091.48 C443.74 1091.68 445.07 1091.87 446.41 1092.06 C447.74 1092.25 449.08 1092.44 450.41 1092.62 C451.75 1092.8 453.08 1092.98 454.42 1093.15 C455.76 1093.32 457.09 1093.49 458.43 1093.66 C459.77 1093.82 461.1 1093.99 462.44 1094.14 C463.78 1094.3 465.12 1094.46 466.45 1094.61 C467.79 1094.77 469.13 1094.92 470.47 1095.06 C471.8 1095.21 473.14 1095.36 474.48 1095.5 C475.82 1095.64 477.15 1095.78 478.49 1095.92 C479.83 1096.06 481.16 1096.2 482.5 1096.33 C483.83 1096.47 485.17 1096.6 486.5 1096.73 C487.84 1096.86 489.17 1096.99 490.5 1097.12 C491.84 1097.25 493.17 1097.38 494.5 1097.51 C495.83 1097.64 497.16 1097.76 498.49 1097.89 C499.82 1098.02 501.15 1098.14 502.48 1098.27 C503.81 1098.4 505.13 1098.52 506.46 1098.65 C507.78 1098.77 509.11 1098.9 510.43 1099.03 C511.75 1099.16 513.73 1099.35 514.39 1099.41" fill="none" stroke="#000" stroke-width="2.9" stroke-linecap="butt"/>
<line x1="315.1" y1="985.7" x2="303.7" y2="1009.3" stroke="#000" stroke-width="1.6"/>
<ellipse cx="325.1" cy="970.3" rx="16.6" ry="16.6" fill="#fff" stroke="#000" stroke-width="1.15"/>
<text transform="translate(325.55 977.9) scale(0.64 1)" font-size="24.3" font-weight="bold" font-style="normal" text-anchor="middle" fill="#000" letter-spacing="0.7" stroke="#000" stroke-width="0.2">AL</text>
<text transform="translate(325.85 977.9) scale(0.64 1)" font-size="24.3" font-weight="bold" font-style="normal" text-anchor="middle" fill="#000" letter-spacing="0.7" stroke="#000" stroke-width="0.2">AL</text>
<line x1="357.2" y1="1011.5" x2="341.5" y2="1059.4" stroke="#000" stroke-width="1.6"/>
<ellipse cx="363.1" cy="995.3" rx="16.5" ry="16.5" fill="#fff" stroke="#000" stroke-width="1.15"/>
<text transform="translate(363.55 1003.8) scale(0.635 1)" font-size="21.5" font-weight="bold" font-style="normal" text-anchor="middle" fill="#000" letter-spacing="0.7" stroke="#000" stroke-width="0.2">FE</text>
<text transform="translate(363.85 1003.8) scale(0.635 1)" font-size="21.5" font-weight="bold" font-style="normal" text-anchor="middle" fill="#000" letter-spacing="0.7" stroke="#000" stroke-width="0.2">FE</text>
<line x1="394.4" y1="1044.4" x2="379.4" y2="1087.2" stroke="#000" stroke-width="1.6"/>
<ellipse cx="402.6" cy="1028.4" rx="21" ry="16.7" fill="#fff" stroke="#000" stroke-width="1.15"/>
<text transform="translate(403.05 1035) scale(0.642 1)" font-size="19" font-weight="bold" font-style="normal" text-anchor="middle" fill="#000" letter-spacing="0.7" stroke="#000" stroke-width="0.2">INOX</text>
<text transform="translate(403.35 1035) scale(0.642 1)" font-size="19" font-weight="bold" font-style="normal" text-anchor="middle" fill="#000" letter-spacing="0.7" stroke="#000" stroke-width="0.2">INOX</text>
</svg>
</body></html>
